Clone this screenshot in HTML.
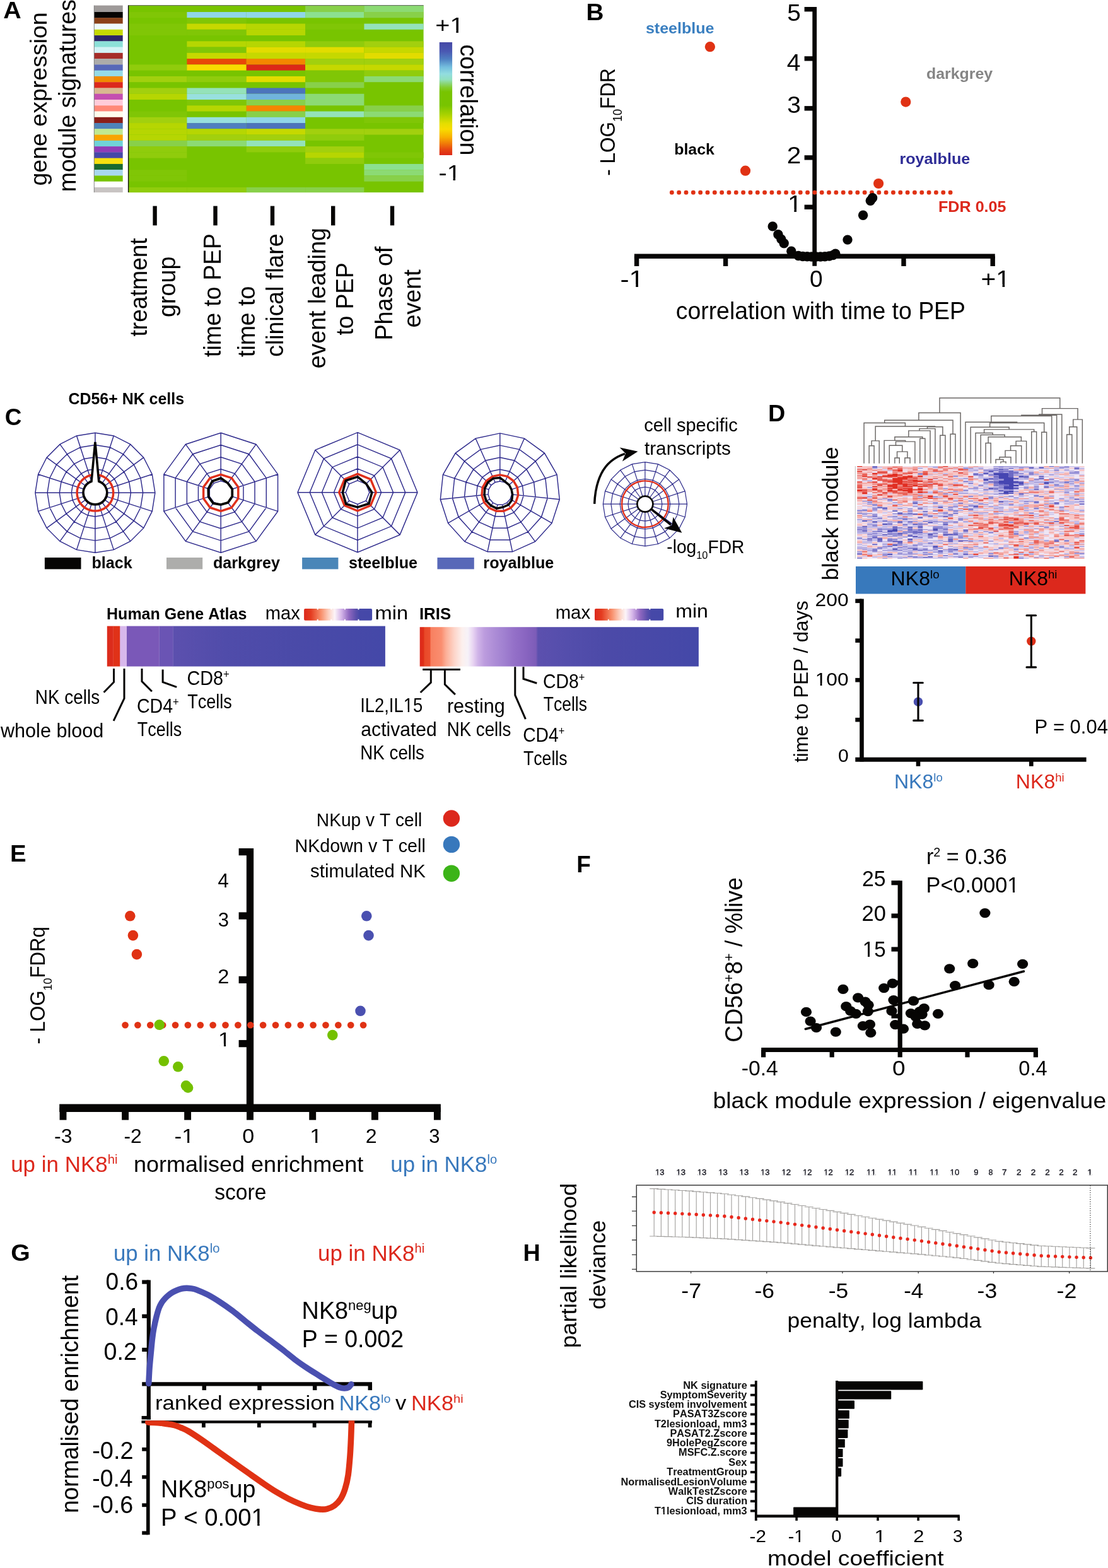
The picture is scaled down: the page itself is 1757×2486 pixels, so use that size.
<!DOCTYPE html>
<html lang="en"><head><meta charset="utf-8"><title>Figure</title>
<style>html,body{margin:0;padding:0;background:#fff}svg{display:block}text{font-family:"Liberation Sans",sans-serif;white-space:pre;font-kerning:none}</style></head>
<body>
<svg width="1757" height="2486" viewBox="0 0 1757 2486">
<rect width="1757" height="2486" fill="#fff"/>
<g id="pA">
<rect x="149.3" y="8.6" width="45.4" height="10.72" fill="#9e9a99"/>
<rect x="149.3" y="19.02" width="45.4" height="9.57" fill="#050402"/>
<rect x="149.3" y="28.28" width="45.4" height="9.57" fill="#8b4118"/>
<rect x="149.3" y="37.55" width="45.4" height="9.57" fill="#eef9fb"/>
<rect x="149.3" y="46.81" width="45.4" height="9.57" fill="#c6d900"/>
<rect x="149.3" y="56.08" width="45.4" height="9.57" fill="#2d2568"/>
<rect x="149.3" y="65.34" width="45.4" height="9.57" fill="#8ce0d8"/>
<rect x="149.3" y="74.61" width="45.4" height="9.57" fill="#d3f2f5"/>
<rect x="149.3" y="83.88" width="45.4" height="9.57" fill="#a62c28"/>
<rect x="149.3" y="93.14" width="45.4" height="9.57" fill="#adacaa"/>
<rect x="149.3" y="102.41" width="45.4" height="9.57" fill="#5868b8"/>
<rect x="149.3" y="111.67" width="45.4" height="9.57" fill="#96dbe6"/>
<rect x="149.3" y="120.94" width="45.4" height="9.57" fill="#f08a00"/>
<rect x="149.3" y="130.2" width="45.4" height="9.57" fill="#dc281c"/>
<rect x="149.3" y="139.47" width="45.4" height="9.57" fill="#d8b990"/>
<rect x="149.3" y="148.73" width="45.4" height="9.57" fill="#c44fb0"/>
<rect x="149.3" y="158" width="45.4" height="9.57" fill="#ffcbd9"/>
<rect x="149.3" y="167.27" width="45.4" height="9.57" fill="#ff8878"/>
<rect x="149.3" y="176.53" width="45.4" height="9.57" fill="#fffcec"/>
<rect x="149.3" y="185.8" width="45.4" height="9.57" fill="#8b1e18"/>
<rect x="149.3" y="195.06" width="45.4" height="9.57" fill="#4e83b8"/>
<rect x="149.3" y="204.33" width="45.4" height="9.57" fill="#c0e890"/>
<rect x="149.3" y="213.59" width="45.4" height="9.57" fill="#f8a400"/>
<rect x="149.3" y="222.86" width="45.4" height="9.57" fill="#70d2d8"/>
<rect x="149.3" y="232.12" width="45.4" height="9.57" fill="#903cb8"/>
<rect x="149.3" y="241.39" width="45.4" height="9.57" fill="#4648a8"/>
<rect x="149.3" y="250.66" width="45.4" height="9.57" fill="#f8e010"/>
<rect x="149.3" y="259.92" width="45.4" height="9.57" fill="#1a6a30"/>
<rect x="149.3" y="269.19" width="45.4" height="9.57" fill="#a8d8ee"/>
<rect x="149.3" y="278.45" width="45.4" height="9.57" fill="#78c400"/>
<rect x="149.3" y="287.72" width="45.4" height="9.57" fill="#ffffff"/>
<rect x="149.3" y="296.98" width="45.4" height="8.12" fill="#c8c4c3"/>
<line x1="149.3" y1="8.6" x2="149.3" y2="305.1" stroke="#666" stroke-width="0.8"/>
<rect x="203.3" y="8.6" width="468.3" height="296.5" fill="#78c400"/>
<rect x="484.1" y="8.6" width="93.3" height="10.42" fill="#88d04a"/>
<rect x="577.4" y="8.6" width="94.2" height="10.42" fill="#8cda74"/>
<rect x="203.3" y="19.02" width="93.1" height="9.27" fill="#80c606"/>
<rect x="296.4" y="19.02" width="94.3" height="9.27" fill="#90d6e8"/>
<rect x="390.7" y="19.02" width="93.4" height="9.27" fill="#90d6e8"/>
<rect x="484.1" y="19.02" width="93.3" height="9.27" fill="#8ce090"/>
<rect x="577.4" y="19.02" width="94.2" height="9.27" fill="#88d04a"/>
<rect x="296.4" y="28.28" width="94.3" height="9.27" fill="#80c606"/>
<rect x="203.3" y="37.55" width="93.1" height="9.27" fill="#80c606"/>
<rect x="296.4" y="37.55" width="94.3" height="9.27" fill="#c6d800"/>
<rect x="390.7" y="37.55" width="93.4" height="9.27" fill="#b6d602"/>
<rect x="484.1" y="37.55" width="93.3" height="9.27" fill="#80c606"/>
<rect x="577.4" y="37.55" width="94.2" height="9.27" fill="#94e2ba"/>
<rect x="203.3" y="46.81" width="93.1" height="9.27" fill="#80c606"/>
<rect x="296.4" y="46.81" width="94.3" height="9.27" fill="#80c606"/>
<rect x="390.7" y="46.81" width="93.4" height="9.27" fill="#b6d602"/>
<rect x="296.4" y="65.34" width="94.3" height="9.27" fill="#b6d602"/>
<rect x="390.7" y="65.34" width="93.4" height="9.27" fill="#b6d602"/>
<rect x="484.1" y="65.34" width="93.3" height="9.27" fill="#90cc0c"/>
<rect x="577.4" y="65.34" width="94.2" height="9.27" fill="#a2d00e"/>
<rect x="296.4" y="74.61" width="94.3" height="9.27" fill="#80c606"/>
<rect x="390.7" y="74.61" width="93.4" height="9.27" fill="#e2dc00"/>
<rect x="484.1" y="74.61" width="93.3" height="9.27" fill="#e2dc00"/>
<rect x="577.4" y="74.61" width="94.2" height="9.27" fill="#c6d800"/>
<rect x="296.4" y="83.88" width="94.3" height="9.27" fill="#c6d800"/>
<rect x="390.7" y="83.88" width="93.4" height="9.27" fill="#c6d800"/>
<rect x="484.1" y="83.88" width="93.3" height="9.27" fill="#c6d800"/>
<rect x="577.4" y="83.88" width="94.2" height="9.27" fill="#e2dc00"/>
<rect x="296.4" y="93.14" width="94.3" height="9.27" fill="#e84808"/>
<rect x="390.7" y="93.14" width="93.4" height="9.27" fill="#f48600"/>
<rect x="484.1" y="93.14" width="93.3" height="9.27" fill="#a2d00e"/>
<rect x="577.4" y="93.14" width="94.2" height="9.27" fill="#a2d00e"/>
<rect x="203.3" y="102.41" width="93.1" height="9.27" fill="#90cc0c"/>
<rect x="296.4" y="102.41" width="94.3" height="9.27" fill="#f8dc00"/>
<rect x="390.7" y="102.41" width="93.4" height="9.27" fill="#dc2818"/>
<rect x="484.1" y="102.41" width="93.3" height="9.27" fill="#c6d800"/>
<rect x="577.4" y="102.41" width="94.2" height="9.27" fill="#c6d800"/>
<rect x="484.1" y="111.67" width="93.3" height="9.27" fill="#80c606"/>
<rect x="577.4" y="111.67" width="94.2" height="9.27" fill="#90cc0c"/>
<rect x="203.3" y="120.94" width="93.1" height="9.27" fill="#a2d00e"/>
<rect x="296.4" y="120.94" width="94.3" height="9.27" fill="#90cc0c"/>
<rect x="390.7" y="120.94" width="93.4" height="9.27" fill="#e2dc00"/>
<rect x="484.1" y="120.94" width="93.3" height="9.27" fill="#80c606"/>
<rect x="577.4" y="120.94" width="94.2" height="9.27" fill="#8cda74"/>
<rect x="484.1" y="130.2" width="93.3" height="9.27" fill="#88d04a"/>
<rect x="203.3" y="139.47" width="93.1" height="9.27" fill="#a2d00e"/>
<rect x="296.4" y="139.47" width="94.3" height="9.27" fill="#94e2ba"/>
<rect x="390.7" y="139.47" width="93.4" height="9.27" fill="#4c74bc"/>
<rect x="203.3" y="148.73" width="93.1" height="9.27" fill="#b6d602"/>
<rect x="296.4" y="148.73" width="94.3" height="9.27" fill="#98e0de"/>
<rect x="390.7" y="148.73" width="93.4" height="9.27" fill="#70b4dc"/>
<rect x="484.1" y="148.73" width="93.3" height="9.27" fill="#8cda74"/>
<rect x="296.4" y="158" width="94.3" height="9.27" fill="#80c606"/>
<rect x="390.7" y="158" width="93.4" height="9.27" fill="#88d04a"/>
<rect x="484.1" y="158" width="93.3" height="9.27" fill="#8cda74"/>
<rect x="296.4" y="167.27" width="94.3" height="9.27" fill="#b6d602"/>
<rect x="390.7" y="167.27" width="93.4" height="9.27" fill="#f48600"/>
<rect x="577.4" y="167.27" width="94.2" height="9.27" fill="#88d04a"/>
<rect x="203.3" y="176.53" width="93.1" height="9.27" fill="#80c606"/>
<rect x="390.7" y="176.53" width="93.4" height="9.27" fill="#88d04a"/>
<rect x="484.1" y="176.53" width="93.3" height="9.27" fill="#94e2ba"/>
<rect x="577.4" y="176.53" width="94.2" height="9.27" fill="#8cda74"/>
<rect x="203.3" y="185.8" width="93.1" height="9.27" fill="#a2d00e"/>
<rect x="296.4" y="185.8" width="94.3" height="9.27" fill="#98e0de"/>
<rect x="390.7" y="185.8" width="93.4" height="9.27" fill="#90d6e8"/>
<rect x="577.4" y="185.8" width="94.2" height="9.27" fill="#80c606"/>
<rect x="203.3" y="195.06" width="93.1" height="9.27" fill="#b6d602"/>
<rect x="296.4" y="195.06" width="94.3" height="9.27" fill="#5080c0"/>
<rect x="390.7" y="195.06" width="93.4" height="9.27" fill="#4c74bc"/>
<rect x="203.3" y="204.33" width="93.1" height="9.27" fill="#b6d602"/>
<rect x="296.4" y="204.33" width="94.3" height="9.27" fill="#b6d602"/>
<rect x="390.7" y="204.33" width="93.4" height="9.27" fill="#c6d800"/>
<rect x="484.1" y="204.33" width="93.3" height="9.27" fill="#a2d00e"/>
<rect x="577.4" y="204.33" width="94.2" height="9.27" fill="#a2d00e"/>
<rect x="203.3" y="213.59" width="93.1" height="9.27" fill="#b6d602"/>
<rect x="296.4" y="213.59" width="94.3" height="9.27" fill="#a2d00e"/>
<rect x="390.7" y="213.59" width="93.4" height="9.27" fill="#a2d00e"/>
<rect x="484.1" y="213.59" width="93.3" height="9.27" fill="#90cc0c"/>
<rect x="203.3" y="222.86" width="93.1" height="9.27" fill="#88d04a"/>
<rect x="296.4" y="222.86" width="94.3" height="9.27" fill="#8cda74"/>
<rect x="390.7" y="222.86" width="93.4" height="9.27" fill="#94e2ba"/>
<rect x="203.3" y="232.12" width="93.1" height="9.27" fill="#90cc0c"/>
<rect x="390.7" y="232.12" width="93.4" height="9.27" fill="#90cc0c"/>
<rect x="484.1" y="232.12" width="93.3" height="9.27" fill="#a2d00e"/>
<rect x="203.3" y="241.39" width="93.1" height="9.27" fill="#90cc0c"/>
<rect x="484.1" y="241.39" width="93.3" height="9.27" fill="#b6d602"/>
<rect x="577.4" y="241.39" width="94.2" height="9.27" fill="#80c606"/>
<rect x="484.1" y="250.66" width="93.3" height="9.27" fill="#90cc0c"/>
<rect x="577.4" y="259.92" width="94.2" height="9.27" fill="#8ce090"/>
<rect x="203.3" y="269.19" width="93.1" height="9.27" fill="#80c606"/>
<rect x="577.4" y="269.19" width="94.2" height="9.27" fill="#8cda74"/>
<rect x="203.3" y="278.45" width="93.1" height="9.27" fill="#80c606"/>
<rect x="577.4" y="278.45" width="94.2" height="9.27" fill="#88d04a"/>
<rect x="203.3" y="296.98" width="93.1" height="8.12" fill="#90cc0c"/>
<rect x="296.4" y="296.98" width="94.3" height="8.12" fill="#90cc0c"/>
<rect x="390.7" y="296.98" width="93.4" height="8.12" fill="#88d04a"/>
<rect x="484.1" y="296.98" width="93.3" height="8.12" fill="#88d04a"/>
<line x1="203.6" y1="8.3" x2="203.6" y2="305.1" stroke="#111" stroke-width="1.4"/>
<line x1="203" y1="8.6" x2="671.6" y2="8.6" stroke="#555" stroke-width="0.9"/>
<rect x="242.4" y="326.6" width="6.4" height="30.8" fill="#060504"/>
<rect x="338.3" y="326.6" width="6.4" height="30.8" fill="#060504"/>
<rect x="428.8" y="326.6" width="6.4" height="30.8" fill="#060504"/>
<rect x="525" y="326.6" width="6.4" height="30.8" fill="#060504"/>
<rect x="618.8" y="326.6" width="6.4" height="30.8" fill="#060504"/>
<defs><linearGradient id="gA" x1="0" y1="0" x2="0" y2="1"><stop offset="0" stop-color="#4648a6"/><stop offset="0.08" stop-color="#4a58b2"/><stop offset="0.15" stop-color="#4f80c2"/><stop offset="0.22" stop-color="#74bede"/><stop offset="0.28" stop-color="#92dde0"/><stop offset="0.33" stop-color="#92e0c0"/><stop offset="0.4" stop-color="#82cc30"/><stop offset="0.44" stop-color="#78c400"/><stop offset="0.56" stop-color="#78c400"/><stop offset="0.64" stop-color="#a8d200"/><stop offset="0.72" stop-color="#e4de00"/><stop offset="0.77" stop-color="#f8dc00"/><stop offset="0.84" stop-color="#f8b000"/><stop offset="0.9" stop-color="#f07808"/><stop offset="0.95" stop-color="#e64612"/><stop offset="1" stop-color="#dc2818"/></linearGradient></defs>
<rect x="696.8" y="67" width="20.3" height="179" fill="url(#gA)"/>
</g>
<g id="pB">
<line x1="1291.7" y1="11" x2="1291.7" y2="421.8" stroke="#060504" stroke-width="6.8"/>
<line x1="1275.6" y1="14.7" x2="1291.7" y2="14.7" stroke="#060504" stroke-width="7.4"/>
<line x1="1275.6" y1="92.9" x2="1291.7" y2="92.9" stroke="#060504" stroke-width="7.4"/>
<line x1="1275.6" y1="171.8" x2="1291.7" y2="171.8" stroke="#060504" stroke-width="7.4"/>
<line x1="1275.6" y1="249.9" x2="1291.7" y2="249.9" stroke="#060504" stroke-width="7.4"/>
<line x1="1275.6" y1="328.3" x2="1291.7" y2="328.3" stroke="#060504" stroke-width="7.4"/>
<line x1="1005.9" y1="406.3" x2="1577.8" y2="406.3" stroke="#060504" stroke-width="7.4"/>
<line x1="1009.6" y1="406.3" x2="1009.6" y2="422" stroke="#060504" stroke-width="7.4"/>
<line x1="1150.6" y1="406.3" x2="1150.6" y2="422" stroke="#060504" stroke-width="7.4"/>
<line x1="1433" y1="406.3" x2="1433" y2="422" stroke="#060504" stroke-width="7.4"/>
<line x1="1574.2" y1="406.3" x2="1574.2" y2="422" stroke="#060504" stroke-width="7.4"/>
<line x1="1065.3" y1="305.2" x2="1507.5" y2="305.2" stroke="#e03214" stroke-width="6.8" stroke-linecap="round" stroke-dasharray="0.1 11.226"/>
<circle cx="1125.9" cy="74.2" r="8.1" fill="#e03214"/>
<circle cx="1436.3" cy="161.6" r="8.1" fill="#e03214"/>
<circle cx="1182" cy="270.7" r="8.1" fill="#e03214"/>
<circle cx="1393.1" cy="291" r="8.1" fill="#e03214"/>
<circle cx="1225.2" cy="358.9" r="7.7" fill="#060504"/>
<circle cx="1233.9" cy="371.7" r="7.7" fill="#060504"/>
<circle cx="1238.8" cy="379.1" r="7.7" fill="#060504"/>
<circle cx="1243.2" cy="385.8" r="7.7" fill="#060504"/>
<circle cx="1254.8" cy="398.3" r="7.7" fill="#060504"/>
<circle cx="1266" cy="405.5" r="7.7" fill="#060504"/>
<circle cx="1273" cy="406.5" r="7.7" fill="#060504"/>
<circle cx="1280" cy="406.8" r="7.7" fill="#060504"/>
<circle cx="1287" cy="407" r="7.7" fill="#060504"/>
<circle cx="1294" cy="407" r="7.7" fill="#060504"/>
<circle cx="1301" cy="407" r="7.7" fill="#060504"/>
<circle cx="1308" cy="406.8" r="7.7" fill="#060504"/>
<circle cx="1315" cy="406" r="7.7" fill="#060504"/>
<circle cx="1321" cy="404.5" r="7.7" fill="#060504"/>
<circle cx="1324.8" cy="402.3" r="7.7" fill="#060504"/>
<circle cx="1344" cy="380.1" r="7.7" fill="#060504"/>
<circle cx="1368.6" cy="341.2" r="7.7" fill="#060504"/>
<circle cx="1380.3" cy="318.3" r="7.7" fill="#060504"/>
<circle cx="1383.6" cy="313.8" r="7.7" fill="#060504"/>
</g>
<g id="pC">
<path d="M150.9 762.5L156.71 763.42L161.95 766.09L166.11 770.25L168.78 775.49L169.7 781.3L168.78 787.11L166.11 792.35L161.95 796.51L156.71 799.18L150.9 800.1L145.09 799.18L139.85 796.51L135.69 792.35L133.02 787.11L132.1 781.3L133.02 775.49L135.69 770.25L139.85 766.09L145.09 763.42ZM150.9 743.7L162.52 745.54L173 750.88L181.32 759.2L186.66 769.68L188.5 781.3L186.66 792.92L181.32 803.4L173 811.72L162.52 817.06L150.9 818.9L139.28 817.06L128.8 811.72L120.48 803.4L115.14 792.92L113.3 781.3L115.14 769.68L120.48 759.2L128.8 750.88L139.28 745.54ZM150.9 724.7L168.39 727.47L184.17 735.51L196.69 748.03L204.73 763.81L207.5 781.3L204.73 798.79L196.69 814.57L184.17 827.09L168.39 835.13L150.9 837.9L133.41 835.13L117.63 827.09L105.11 814.57L97.07 798.79L94.3 781.3L97.07 763.81L105.11 748.03L117.63 735.51L133.41 727.47ZM150.9 705.5L174.32 709.21L195.45 719.98L212.22 736.75L222.99 757.88L226.7 781.3L222.99 804.72L212.22 825.85L195.45 842.62L174.32 853.39L150.9 857.1L127.48 853.39L106.35 842.62L89.58 825.85L78.81 804.72L75.1 781.3L78.81 757.88L89.58 736.75L106.35 719.98L127.48 709.21ZM150.9 686.3L180.26 690.95L206.74 704.44L227.76 725.46L241.25 751.94L245.9 781.3L241.25 810.66L227.76 837.14L206.74 858.16L180.26 871.65L150.9 876.3L121.54 871.65L95.06 858.16L74.04 837.14L60.55 810.66L55.9 781.3L60.55 751.94L74.04 725.46L95.06 704.44L121.54 690.95ZM150.9 762.5L150.9 686.3M156.71 763.42L180.26 690.95M161.95 766.09L206.74 704.44M166.11 770.25L227.76 725.46M168.78 775.49L241.25 751.94M169.7 781.3L245.9 781.3M168.78 787.11L241.25 810.66M166.11 792.35L227.76 837.14M161.95 796.51L206.74 858.16M156.71 799.18L180.26 871.65M150.9 800.1L150.9 876.3M145.09 799.18L121.54 871.65M139.85 796.51L95.06 858.16M135.69 792.35L74.04 837.14M133.02 787.11L60.55 810.66M132.1 781.3L55.9 781.3M133.02 775.49L60.55 751.94M135.69 770.25L74.04 725.46M139.85 766.09L95.06 704.44M145.09 763.42L121.54 690.95" fill="none" stroke="#2e2a8c" stroke-width="1.45"/>
<path d="M150.9 752.5L155.41 752.85L159.8 753.91L163.97 755.64L167.83 758L171.26 760.94L174.2 764.37L176.56 768.23L178.29 772.4L179.35 776.79L179.7 781.3L179.35 785.81L178.29 790.2L176.56 794.37L174.2 798.23L171.26 801.66L167.83 804.6L163.97 806.96L159.8 808.69L155.41 809.75L150.9 810.1L146.39 809.75L142 808.69L137.83 806.96L133.97 804.6L130.54 801.66L127.6 798.23L125.24 794.37L123.51 790.2L122.45 785.81L122.1 781.3L122.45 776.79L123.51 772.4L125.24 768.23L127.6 764.37L130.54 760.94L133.97 758L137.83 755.64L142 753.91L146.39 752.85Z" fill="none" stroke="#e0301c" stroke-width="3.5" stroke-linejoin="round"/>
<path d="M150.9 700.8L156.77 763.23A18.8 18.8 0 1 1 145.03 763.23Z" fill="#fff" stroke="#060504" stroke-width="3.6" stroke-linejoin="miter" stroke-miterlimit="10"/>
<path d="M350.2 762.5L361.25 766.09L368.08 775.49L368.08 787.11L361.25 796.51L350.2 800.1L339.15 796.51L332.32 787.11L332.32 775.49L339.15 766.09ZM350.2 743.7L372.3 750.88L385.96 769.68L385.96 792.92L372.3 811.72L350.2 818.9L328.1 811.72L314.44 792.92L314.44 769.68L328.1 750.88ZM350.2 724.7L383.47 735.51L404.03 763.81L404.03 798.79L383.47 827.09L350.2 837.9L316.93 827.09L296.37 798.79L296.37 763.81L316.93 735.51ZM350.2 705.5L394.75 719.98L422.29 757.88L422.29 804.72L394.75 842.62L350.2 857.1L305.65 842.62L278.11 804.72L278.11 757.88L305.65 719.98ZM350.2 686.3L406.04 704.44L440.55 751.94L440.55 810.66L406.04 858.16L350.2 876.3L294.36 858.16L259.85 810.66L259.85 751.94L294.36 704.44ZM350.2 762.5L350.2 686.3M361.25 766.09L406.04 704.44M368.08 775.49L440.55 751.94M368.08 787.11L440.55 810.66M361.25 796.51L406.04 858.16M350.2 800.1L350.2 876.3M339.15 796.51L294.36 858.16M332.32 787.11L259.85 810.66M332.32 775.49L259.85 751.94M339.15 766.09L294.36 704.44" fill="none" stroke="#2e2a8c" stroke-width="1.45"/>
<path d="M350.2 752.3L367.25 757.84L377.78 772.34L377.78 790.26L367.25 804.76L350.2 810.3L333.15 804.76L322.62 790.26L322.62 772.34L333.15 757.84Z" fill="none" stroke="#e0301c" stroke-width="3.5" stroke-linejoin="round"/>
<path d="M350.2 758.1L361.31 766.01L368.27 775.43L368.27 787.17L361.54 796.91L350.2 800L338.09 797.97L330.61 787.67L330.32 774.84L336.8 762.85Z" fill="none" stroke="#060504" stroke-width="3.8" stroke-linejoin="miter" stroke-miterlimit="10"/>
<path d="M567 761.9L580.29 767.41L585.8 780.7L580.29 793.99L567 799.5L553.71 793.99L548.2 780.7L553.71 767.41ZM567 743.1L593.59 754.11L604.6 780.7L593.59 807.29L567 818.3L540.41 807.29L529.4 780.7L540.41 754.11ZM567 724.1L607.02 740.68L623.6 780.7L607.02 820.72L567 837.3L526.98 820.72L510.4 780.7L526.98 740.68ZM567 704.9L620.6 727.1L642.8 780.7L620.6 834.3L567 856.5L513.4 834.3L491.2 780.7L513.4 727.1ZM567 685.7L634.18 713.52L662 780.7L634.18 847.88L567 875.7L499.82 847.88L472 780.7L499.82 713.52ZM567 761.9L567 685.7M580.29 767.41L634.18 713.52M585.8 780.7L662 780.7M580.29 793.99L634.18 847.88M567 799.5L567 875.7M553.71 793.99L499.82 847.88M548.2 780.7L472 780.7M553.71 767.41L499.82 713.52" fill="none" stroke="#2e2a8c" stroke-width="1.45"/>
<path d="M567 751.4L587.72 759.98L596.3 780.7L587.72 801.42L567 810L546.28 801.42L537.7 780.7L546.28 759.98Z" fill="none" stroke="#e0301c" stroke-width="3.5" stroke-linejoin="round"/>
<path d="M567 755.9L580.65 767.05L589.8 780.7L584.89 798.59L567 804.2L548.69 799.01L543.3 780.7L548.26 761.96Z" fill="none" stroke="#060504" stroke-width="3.6" stroke-linejoin="miter" stroke-miterlimit="10"/>
<path d="M792.8 763.1L800.45 764.73L806.77 769.32L810.68 776.09L811.5 783.87L809.08 791.3L803.85 797.11L796.71 800.29L788.89 800.29L781.75 797.11L776.52 791.3L774.1 783.87L774.92 776.09L778.83 769.32L785.15 764.73ZM792.8 744.3L808.09 747.55L820.74 756.74L828.56 770.28L830.19 785.83L825.36 800.7L814.9 812.32L800.62 818.68L784.98 818.68L770.7 812.32L760.24 800.7L755.41 785.83L757.04 770.28L764.86 756.74L777.51 747.55ZM792.8 725.3L815.82 730.19L834.86 744.03L846.63 764.41L849.09 787.82L841.82 810.2L826.07 827.69L804.57 837.26L781.03 837.26L759.53 827.69L743.78 810.2L736.51 787.82L738.97 764.41L750.74 744.03L769.78 730.19ZM792.8 706.1L823.63 712.65L849.13 731.18L864.89 758.48L868.18 789.82L858.44 819.8L837.35 843.22L808.56 856.04L777.04 856.04L748.25 843.22L727.16 819.8L717.42 789.82L720.71 758.48L736.47 731.18L761.97 712.65ZM792.8 686.9L831.44 695.11L863.4 718.33L883.15 752.54L887.28 791.83L875.07 829.4L848.64 858.76L812.55 874.82L773.05 874.82L736.96 858.76L710.53 829.4L698.32 791.83L702.45 752.54L722.2 718.33L754.16 695.11ZM792.8 763.1L792.8 687.3M800.45 764.73L831.28 695.48M806.77 769.32L863.1 718.6M810.68 776.09L882.77 752.67M811.5 783.87L886.88 791.79M809.08 791.3L874.73 829.2M803.85 797.11L848.4 858.43M796.71 800.29L812.47 874.43M788.89 800.29L773.13 874.43M781.75 797.11L737.2 858.43M776.52 791.3L710.87 829.2M774.1 783.87L698.72 791.79M774.92 776.09L702.83 752.67M778.83 769.32L722.5 718.6M785.15 764.73L754.32 695.48" fill="none" stroke="#2e2a8c" stroke-width="1.45"/>
<path d="M792.8 752.9L804.6 755.41L814.35 762.5L820.38 772.94L821.64 784.93L817.91 796.4L809.85 805.36L798.83 810.27L786.77 810.27L775.75 805.36L767.69 796.4L763.96 784.93L765.22 772.94L771.25 762.5L781 755.41Z" fill="none" stroke="#e0301c" stroke-width="3.5" stroke-linejoin="round"/>
<path d="M792.8 757.5L800.93 763.63L807.37 768.79L810.97 776L812.69 783.99L811.68 792.8L806.26 800.43L797.5 804.01L787.64 806.16L778.46 801.64L771.24 794.35L768.04 784.5L768.83 774.11L773.78 764.77L782.31 758.33Z" fill="none" stroke="#060504" stroke-width="3.5" stroke-linejoin="miter" stroke-miterlimit="10"/>
<path d="M1022.9 772.2L1031.24 773.52L1038.77 777.36L1044.74 783.33L1048.58 790.86L1049.9 799.2L1048.58 807.54L1044.74 815.07L1038.77 821.04L1031.24 824.88L1022.9 826.2L1014.56 824.88L1007.03 821.04L1001.06 815.07L997.22 807.54L995.9 799.2L997.22 790.86L1001.06 783.33L1007.03 777.36L1014.56 773.52ZM1022.9 759.4L1035.2 761.35L1046.29 767L1055.1 775.81L1060.75 786.9L1062.7 799.2L1060.75 811.5L1055.1 822.59L1046.29 831.4L1035.2 837.05L1022.9 839L1010.6 837.05L999.51 831.4L990.7 822.59L985.05 811.5L983.1 799.2L985.05 786.9L990.7 775.81L999.51 767L1010.6 761.35ZM1022.9 745.2L1039.59 747.84L1054.64 755.51L1066.59 767.46L1074.26 782.51L1076.9 799.2L1074.26 815.89L1066.59 830.94L1054.64 842.89L1039.59 850.56L1022.9 853.2L1006.21 850.56L991.16 842.89L979.21 830.94L971.54 815.89L968.9 799.2L971.54 782.51L979.21 767.46L991.16 755.51L1006.21 747.84ZM1022.9 732.6L1043.48 735.86L1062.05 745.32L1076.78 760.05L1086.24 778.62L1089.5 799.2L1086.24 819.78L1076.78 838.35L1062.05 853.08L1043.48 862.54L1022.9 865.8L1002.32 862.54L983.75 853.08L969.02 838.35L959.56 819.78L956.3 799.2L959.56 778.62L969.02 760.05L983.75 745.32L1002.32 735.86ZM1022.9 787.2L1022.9 732.6M1026.61 787.79L1043.48 735.86M1029.95 789.49L1062.05 745.32M1032.61 792.15L1076.78 760.05M1034.31 795.49L1086.24 778.62M1034.9 799.2L1089.5 799.2M1034.31 802.91L1086.24 819.78M1032.61 806.25L1076.78 838.35M1029.95 808.91L1062.05 853.08M1026.61 810.61L1043.48 862.54M1022.9 811.2L1022.9 865.8M1019.19 810.61L1002.32 862.54M1015.85 808.91L983.75 853.08M1013.19 806.25L969.02 838.35M1011.49 802.91L959.56 819.78M1010.9 799.2L956.3 799.2M1011.49 795.49L959.56 778.62M1013.19 792.15L969.02 760.05M1015.85 789.49L983.75 745.32M1019.19 787.79L1002.32 735.86" fill="none" stroke="#2c2a8a" stroke-width="1.2"/>
<circle cx="1022.9" cy="799.2" r="36.8" fill="none" stroke="#e0301c" stroke-width="2.4"/>
<path d="M1031.9 806.7L1064 832" fill="none" stroke="#060504" stroke-width="3.6"/>
<path d="M1081.4 844.7L1053.1 837.5L1065.3 833.1L1067.5 819.8Z" fill="#060504" stroke="#060504" stroke-width="0"/>
<circle cx="1022.9" cy="799.2" r="12.5" fill="#fff" stroke="#060504" stroke-width="2.7"/>
<path d="M942.7 798.9C943.5 775 948 762 953.5 751C961 736 974 725 991 719.4" fill="none" stroke="#060504" stroke-width="3.5"/>
<path d="M1011.5 715.7L986.9 731.6L992.1 719.1L982.7 709.4Z" fill="#060504" stroke="#060504" stroke-width="0"/>
<rect x="70.9" y="884" width="57.6" height="18.4" fill="#060504"/>
<rect x="264" y="884" width="57.2" height="18.4" fill="#adadab"/>
<rect x="479.1" y="884" width="57.3" height="18.4" fill="#4a86b8"/>
<rect x="693.5" y="884" width="58.3" height="18.4" fill="#5868b8"/>
<defs><linearGradient id="gM"><stop offset="0" stop-color="#dc281c"/><stop offset="0.1" stop-color="#e43c20"/><stop offset="0.25" stop-color="#f8906c"/><stop offset="0.36" stop-color="#fcd0c0"/><stop offset="0.45" stop-color="#fcf4f8"/><stop offset="0.55" stop-color="#d4b4e8"/><stop offset="0.66" stop-color="#9068c0"/><stop offset="0.76" stop-color="#5c50ac"/><stop offset="0.82" stop-color="#4648a8"/><stop offset="1" stop-color="#4448a8"/></linearGradient><linearGradient id="gH" gradientUnits="userSpaceOnUse" x1="274" y1="0" x2="611" y2="0"><stop offset="0" stop-color="#5c50ae"/><stop offset="0.25" stop-color="#504caa"/><stop offset="0.6" stop-color="#4a4aa8"/><stop offset="1" stop-color="#4448a8"/></linearGradient><linearGradient id="gI" gradientUnits="userSpaceOnUse" x1="665.7" y1="0" x2="1108" y2="0"><stop offset="0.0000" stop-color="#dc281c"/><stop offset="0.0142" stop-color="#e03018"/><stop offset="0.0165" stop-color="#e84828"/><stop offset="0.0369" stop-color="#ec5030"/><stop offset="0.0391" stop-color="#f88060"/><stop offset="0.0775" stop-color="#fa8e70"/><stop offset="0.0934" stop-color="#fcae96"/><stop offset="0.1228" stop-color="#fdd4c8"/><stop offset="0.1522" stop-color="#fcf0ee"/><stop offset="0.1725" stop-color="#f6f2f8"/><stop offset="0.1906" stop-color="#e8d4f2"/><stop offset="0.2087" stop-color="#d0b4e8"/><stop offset="0.2313" stop-color="#bc9cde"/><stop offset="0.2697" stop-color="#ac8cd6"/><stop offset="0.3036" stop-color="#a080d0"/><stop offset="0.3376" stop-color="#9470c8"/><stop offset="0.3828" stop-color="#8864c0"/><stop offset="0.4167" stop-color="#7c5cb8"/><stop offset="0.4235" stop-color="#5c50ae"/><stop offset="0.5297" stop-color="#544eac"/><stop offset="0.6654" stop-color="#4c4aa8"/><stop offset="1.0000" stop-color="#4448a8"/></linearGradient></defs>
<rect x="274.2" y="992.6" width="336.7" height="64" fill="url(#gH)"/>
<rect x="252.5" y="992.6" width="22" height="64" fill="#6a54b4"/>
<rect x="200.7" y="992.6" width="52" height="64" fill="#7a58b8"/>
<rect x="190" y="992.6" width="10.9" height="64" fill="#d8b8ec"/>
<rect x="179.6" y="992.6" width="10.6" height="64" fill="#e03218"/>
<rect x="169.8" y="992.6" width="10" height="64" fill="#dc2c1c"/>
<rect x="665.7" y="994.2" width="442.2" height="62.4" fill="url(#gI)"/>
<rect x="482.1" y="964.9" width="108" height="18.8" fill="url(#gM)" rx="2"/>
<rect x="502.7" y="964.4" width="2" height="2.2" fill="#fff"/>
<rect x="502.7" y="981.8" width="2" height="2.2" fill="#fff"/>
<rect x="524.3" y="964.4" width="2" height="2.2" fill="#fff"/>
<rect x="524.3" y="981.8" width="2" height="2.2" fill="#fff"/>
<rect x="545.9" y="964.4" width="2" height="2.2" fill="#fff"/>
<rect x="545.9" y="981.8" width="2" height="2.2" fill="#fff"/>
<rect x="567.5" y="964.4" width="2" height="2.2" fill="#fff"/>
<rect x="567.5" y="981.8" width="2" height="2.2" fill="#fff"/>
<rect x="943" y="964.9" width="109.2" height="18.8" fill="url(#gM)" rx="2"/>
<rect x="963.84" y="964.4" width="2" height="2.2" fill="#fff"/>
<rect x="963.84" y="981.8" width="2" height="2.2" fill="#fff"/>
<rect x="985.68" y="964.4" width="2" height="2.2" fill="#fff"/>
<rect x="985.68" y="981.8" width="2" height="2.2" fill="#fff"/>
<rect x="1007.52" y="964.4" width="2" height="2.2" fill="#fff"/>
<rect x="1007.52" y="981.8" width="2" height="2.2" fill="#fff"/>
<rect x="1029.36" y="964.4" width="2" height="2.2" fill="#fff"/>
<rect x="1029.36" y="981.8" width="2" height="2.2" fill="#fff"/>
<path d="M180.5 1060V1081.5L164.6 1097.7M197 1060V1107.4L180.1 1142.9M225 1060V1080.4L240.9 1096.3M258.1 1061.5V1081.5L280.2 1089.4M670.2 1061.5H729.9M683.3 1061.5V1082.2L666.7 1098M705.4 1061.5V1085L721.9 1101.1M816.8 1057.3V1102.2L833.4 1140.1M830 1057.3V1076.3L851.3 1083.2" fill="none" stroke="#060504" stroke-width="3"/>
</g>
<g id="pD">
<path d="M1378.2 734.85V706.75H1386.09V734.85M1382.14 706.75V698.87H1394.22V734.85M1418.87 734.85V725.98H1426.26V734.85M1434.89 734.85V725.98H1443.02V734.85M1422.56 725.98V716.12H1438.95V725.98M1410.24 734.85V706.26H1430.76V716.12M1420.5 706.26V700.1H1450.91V734.85M1402.11 734.85V698.37H1435.7V700.1M1458.79 734.85V695.17H1466.93V734.85M1418.9 698.37V692.7H1462.86V695.17M1440.88 692.7V682.85H1475.06V734.85M1457.97 682.85V679.64H1482.95V734.85M1490.83 734.85V690.24H1498.96V734.85M1470.46 679.64V676.69H1494.9V690.24M1388.18 698.87V675.95H1482.68V676.69M1370.07 734.85V670.52H1435.43V675.95M1507.1 734.85V688.27H1514.98V734.85M1402.75 670.52V666.33H1511.04V688.27M1456.9 666.33V654.5H1523.12V734.85M1586.95 734.85V732.14H1595.08V734.85M1579.06 734.85V728.44H1591.02V732.14M1585.04 728.44V724.74H1602.97V734.85M1594 724.74V714.39H1611.1V734.85M1602.55 714.39V706.75H1619.73V734.85M1611.14 706.75V699.36H1627.62V734.85M1563.04 734.85V702.56H1571.18V734.85M1567.11 702.56V692.7H1619.38V699.36M1555.16 734.85V689.5H1593.24V692.7M1547.02 734.85V686.54H1574.2V689.5M1635.75 734.85V684.57H1643.64V734.85M1560.61 686.54V680.87H1639.69V684.57M1539.14 734.85V677.18H1600.15V680.87M1651.77 734.85V685.31H1659.65V734.85M1569.64 677.18V670.52H1655.71V685.31M1531 734.85V669.29H1612.68V670.52M1571.84 669.29V659.43H1667.79V734.85M1619.81 659.43V658.2H1675.67V734.85M1647.74 658.2V656.97H1683.81V734.85M1691.69 734.85V689.01H1699.83V734.85M1695.76 689.01V676.69H1707.71V734.85M1701.74 676.69V665.1H1716.34V734.85M1652.51 656.97V647.6H1709.04V665.1M1490.01 654.5V631.09H1680.77V647.6" fill="none" stroke="#6a6664" stroke-width="1.45" stroke-linejoin="miter"/>
<g transform="translate(1359.2,739) scale(8.00667,1.33364)"><rect width="45" height="110" fill="#efe6f5"/><path d="M0 104v1h1v-1zM1 52v1h1v-1zM1 65v1h1v-1zM3 66v1h1v-1zM3 100v1h1v-1zM4 49v1h1v-1zM4 86v1h1v-1zM5 69v1h1v-1zM5 81v1h1v-1zM6 76v2h1v-2zM6 88v1h1v-1zM6 104v1h1v-1zM7 53v1h1v-1zM7 73v1h1v-1zM7 75v3h1v-3zM7 89v1h1v-1zM7 94v1h1v-1zM7 98v1h1v-1zM8 56v1h1v-1zM8 66v1h1v-1zM8 80v1h1v-1zM8 89v1h1v-1zM8 91v1h1v-1zM10 73v1h1v-1zM10 82v1h1v-1zM10 87v1h1v-1zM11 57v1h1v-1zM11 69v1h1v-1zM11 79v1h1v-1zM11 83v1h1v-1zM11 98v1h1v-1zM12 9v1h1v-1zM12 61v1h1v-1zM13 108v1h1v-1zM14 80v1h1v-1zM15 75v2h1v-2zM15 95v2h1v-2zM17 69v1h1v-1zM17 81v1h1v-1zM18 81v1h1v-1zM19 80v1h1v-1zM19 99v1h1v-1zM21 76v1h1v-1zM23 48v1h1v-1zM25 8v1h1v-1zM25 15v2h1v-2zM26 6v1h1v-1zM26 18v1h1v-1zM26 26v1h1v-1zM27 8v3h1v-3zM27 19v1h1v-1zM27 22v1h1v-1zM28 4v1h1v-1zM28 8v7h1v-7zM28 17v4h1v-4zM28 29v1h1v-1zM28 32v1h1v-1zM28 42v1h1v-1zM28 97v1h1v-1zM29 8v14h1v-14zM29 24v3h1v-3zM29 30v3h1v-3zM30 7v1h1v-1zM30 10v1h1v-1zM30 13v15h1v-15zM30 29v2h1v-2zM30 32v1h1v-1zM31 14v1h1v-1zM31 18v2h1v-2zM31 22v2h1v-2zM31 26v1h1v-1zM32 12v1h1v-1zM32 19v2h1v-2zM33 13v1h1v-1zM34 2v1h1v-1zM35 27v1h1v-1zM36 12v1h1v-1zM37 19v2h1v-2zM41 19v1h1v-1zM43 39v1h1v-1z" fill="#4646b2"/><path d="M0 73v1h1v-1zM0 75v1h1v-1zM0 109v1h1v-1zM1 64v1h1v-1zM1 71v2h1v-2zM1 76v2h1v-2zM2 86v1h1v-1zM2 88v1h1v-1zM3 0v2h1v-2zM3 46v1h1v-1zM3 59v1h1v-1zM3 70v1h1v-1zM3 77v1h1v-1zM3 84v2h1v-2zM3 93v1h1v-1zM3 98v1h1v-1zM4 62v1h1v-1zM4 74v1h1v-1zM4 77v1h1v-1zM4 85v1h1v-1zM4 87v3h1v-3zM4 97v1h1v-1zM5 49v2h1v-2zM5 65v1h1v-1zM5 68v1h1v-1zM5 105v1h1v-1zM6 39v1h1v-1zM6 69v1h1v-1zM6 78v1h1v-1zM6 80v1h1v-1zM6 86v1h1v-1zM6 95v1h1v-1zM6 105v1h1v-1zM7 72v1h1v-1zM7 74v1h1v-1zM7 93v1h1v-1zM7 99v1h1v-1zM8 55v1h1v-1zM8 62v1h1v-1zM8 67v1h1v-1zM8 73v1h1v-1zM8 79v1h1v-1zM8 82v1h1v-1zM8 90v1h1v-1zM9 62v2h1v-2zM9 69v1h1v-1zM9 79v1h1v-1zM10 53v1h1v-1zM10 56v1h1v-1zM10 66v1h1v-1zM10 72v1h1v-1zM10 75v2h1v-2zM10 78v1h1v-1zM10 83v1h1v-1zM10 86v1h1v-1zM10 97v1h1v-1zM10 107v1h1v-1zM11 43v2h1v-2zM11 77v2h1v-2zM11 84v1h1v-1zM11 94v1h1v-1zM11 97v1h1v-1zM11 99v1h1v-1zM11 108v1h1v-1zM12 50v1h1v-1zM12 68v1h1v-1zM12 71v3h1v-3zM12 75v2h1v-2zM12 78v2h1v-2zM12 100v1h1v-1zM13 54v1h1v-1zM13 58v1h1v-1zM13 65v1h1v-1zM13 98v1h1v-1zM13 105v1h1v-1zM14 59v1h1v-1zM14 66v2h1v-2zM14 81v2h1v-2zM14 91v1h1v-1zM14 104v1h1v-1zM14 107v2h1v-2zM15 36v1h1v-1zM15 43v1h1v-1zM15 53v1h1v-1zM15 73v2h1v-2zM15 80v1h1v-1zM15 83v1h1v-1zM16 48v2h1v-2zM16 73v1h1v-1zM16 97v1h1v-1zM16 100v2h1v-2zM17 55v1h1v-1zM17 59v2h1v-2zM17 67v1h1v-1zM17 75v1h1v-1zM17 78v1h1v-1zM17 82v1h1v-1zM17 106v1h1v-1zM18 52v1h1v-1zM18 57v1h1v-1zM18 86v4h1v-4zM18 98v1h1v-1zM18 100v1h1v-1zM19 53v1h1v-1zM19 56v1h1v-1zM19 66v1h1v-1zM19 81v1h1v-1zM19 104v1h1v-1zM20 44v1h1v-1zM20 62v1h1v-1zM20 85v1h1v-1zM20 88v2h1v-2zM20 108v1h1v-1zM21 2v1h1v-1zM21 18v1h1v-1zM21 48v1h1v-1zM21 77v1h1v-1zM21 88v1h1v-1zM21 97v1h1v-1zM21 104v2h1v-2zM22 20v1h1v-1zM22 41v1h1v-1zM22 51v1h1v-1zM23 9v2h1v-2zM23 47v1h1v-1zM25 9v1h1v-1zM25 17v1h1v-1zM25 19v1h1v-1zM26 5v1h1v-1zM26 14v2h1v-2zM26 19v1h1v-1zM26 27v1h1v-1zM26 37v1h1v-1zM26 106v2h1v-2zM27 5v1h1v-1zM27 12v2h1v-2zM27 15v1h1v-1zM27 18v1h1v-1zM27 20v1h1v-1zM27 26v1h1v-1zM28 3v1h1v-1zM28 6v2h1v-2zM28 21v2h1v-2zM28 25v1h1v-1zM28 28v1h1v-1zM29 4v1h1v-1zM29 6v1h1v-1zM29 22v2h1v-2zM29 27v1h1v-1zM29 29v1h1v-1zM30 2v1h1v-1zM30 5v2h1v-2zM30 8v2h1v-2zM30 11v2h1v-2zM30 31v1h1v-1zM31 7v2h1v-2zM31 10v1h1v-1zM31 15v1h1v-1zM31 20v1h1v-1zM31 25v1h1v-1zM31 80v1h1v-1zM32 11v1h1v-1zM32 13v1h1v-1zM32 18v1h1v-1zM32 21v2h1v-2zM32 32v2h1v-2zM32 104v1h1v-1zM32 109v1h1v-1zM33 12v1h1v-1zM33 25v1h1v-1zM33 85v1h1v-1zM34 1v1h1v-1zM34 7v1h1v-1zM34 9v1h1v-1zM34 104v1h1v-1zM35 15v1h1v-1zM35 24v1h1v-1zM35 35v1h1v-1zM35 42v2h1v-2zM35 50v1h1v-1zM36 1v2h1v-2zM36 14v2h1v-2zM36 36v1h1v-1zM36 71v1h1v-1zM37 24v2h1v-2zM38 0v1h1v-1zM38 19v1h1v-1zM39 43v2h1v-2zM39 65v1h1v-1zM39 88v2h1v-2zM40 96v1h1v-1zM41 41v1h1v-1zM41 88v1h1v-1zM43 2v2h1v-2zM43 23v1h1v-1zM43 103v1h1v-1zM44 45v1h1v-1zM44 80v1h1v-1z" fill="#6c68c4"/><path d="M0 52v2h1v-2zM0 55v2h1v-2zM0 63v1h1v-1zM0 76v1h1v-1zM0 78v1h1v-1zM0 85v2h1v-2zM0 97v1h1v-1zM0 101v1h1v-1zM0 103v1h1v-1zM1 41v1h1v-1zM1 56v2h1v-2zM1 59v1h1v-1zM1 73v3h1v-3zM1 79v1h1v-1zM1 87v1h1v-1zM1 97v1h1v-1zM1 99v1h1v-1zM2 17v1h1v-1zM2 25v1h1v-1zM2 36v1h1v-1zM2 42v2h1v-2zM2 45v1h1v-1zM2 56v1h1v-1zM2 59v1h1v-1zM2 64v1h1v-1zM2 69v1h1v-1zM2 80v2h1v-2zM2 83v1h1v-1zM2 85v1h1v-1zM2 87v1h1v-1zM2 100v1h1v-1zM2 104v1h1v-1zM3 2v1h1v-1zM3 45v1h1v-1zM3 49v4h1v-4zM3 57v2h1v-2zM3 60v1h1v-1zM3 62v1h1v-1zM3 65v1h1v-1zM3 67v1h1v-1zM3 69v1h1v-1zM3 71v1h1v-1zM3 79v2h1v-2zM3 82v2h1v-2zM3 92v1h1v-1zM3 99v1h1v-1zM3 101v1h1v-1zM4 39v1h1v-1zM4 48v1h1v-1zM4 61v1h1v-1zM4 75v2h1v-2zM4 78v1h1v-1zM4 80v1h1v-1zM4 82v1h1v-1zM4 96v1h1v-1zM4 98v1h1v-1zM5 38v1h1v-1zM5 51v1h1v-1zM5 64v1h1v-1zM5 74v2h1v-2zM5 78v1h1v-1zM5 82v1h1v-1zM5 92v1h1v-1zM5 95v2h1v-2zM5 100v1h1v-1zM5 103v1h1v-1zM5 106v1h1v-1zM5 109v1h1v-1zM6 40v2h1v-2zM6 60v1h1v-1zM6 65v1h1v-1zM6 67v2h1v-2zM6 74v2h1v-2zM6 79v1h1v-1zM6 81v1h1v-1zM6 83v1h1v-1zM6 87v1h1v-1zM6 89v1h1v-1zM6 94v1h1v-1zM6 100v1h1v-1zM6 107v1h1v-1zM7 43v1h1v-1zM7 52v1h1v-1zM7 56v1h1v-1zM7 59v2h1v-2zM7 66v1h1v-1zM7 71v1h1v-1zM7 79v5h1v-5zM7 86v3h1v-3zM7 90v1h1v-1zM7 92v1h1v-1zM7 97v1h1v-1zM7 100v1h1v-1zM8 45v1h1v-1zM8 50v1h1v-1zM8 57v1h1v-1zM8 65v1h1v-1zM8 76v1h1v-1zM8 81v1h1v-1zM8 85v1h1v-1zM8 92v3h1v-3zM8 96v2h1v-2zM8 99v2h1v-2zM8 103v2h1v-2zM8 109v1h1v-1zM9 56v2h1v-2zM9 70v1h1v-1zM9 74v1h1v-1zM9 77v2h1v-2zM9 80v1h1v-1zM9 84v1h1v-1zM9 95v2h1v-2zM9 98v1h1v-1zM9 101v1h1v-1zM9 105v1h1v-1zM9 108v1h1v-1zM10 50v1h1v-1zM10 52v1h1v-1zM10 55v1h1v-1zM10 57v1h1v-1zM10 62v1h1v-1zM10 65v1h1v-1zM10 67v1h1v-1zM10 74v1h1v-1zM10 77v1h1v-1zM10 79v1h1v-1zM10 81v1h1v-1zM10 88v2h1v-2zM10 98v1h1v-1zM10 100v1h1v-1zM10 102v3h1v-3zM11 42v1h1v-1zM11 47v1h1v-1zM11 56v1h1v-1zM11 65v1h1v-1zM11 68v1h1v-1zM11 75v2h1v-2zM11 80v1h1v-1zM11 93v1h1v-1zM11 100v1h1v-1zM11 104v1h1v-1zM11 107v1h1v-1zM12 2v1h1v-1zM12 36v1h1v-1zM12 49v1h1v-1zM12 51v1h1v-1zM12 60v1h1v-1zM12 69v2h1v-2zM12 77v1h1v-1zM12 81v1h1v-1zM12 84v2h1v-2zM12 91v1h1v-1zM12 93v1h1v-1zM12 99v1h1v-1zM12 108v1h1v-1zM13 48v1h1v-1zM13 53v1h1v-1zM13 56v2h1v-2zM13 68v2h1v-2zM13 75v1h1v-1zM13 80v1h1v-1zM13 95v1h1v-1zM13 99v2h1v-2zM13 102v2h1v-2zM14 58v1h1v-1zM14 60v1h1v-1zM14 64v1h1v-1zM14 76v1h1v-1zM14 83v3h1v-3zM14 92v1h1v-1zM14 100v1h1v-1zM15 1v1h1v-1zM15 44v1h1v-1zM15 52v1h1v-1zM15 65v2h1v-2zM15 71v2h1v-2zM15 79v1h1v-1zM15 82v1h1v-1zM15 94v1h1v-1zM15 97v3h1v-3zM15 102v1h1v-1zM16 30v1h1v-1zM16 55v1h1v-1zM16 59v1h1v-1zM16 66v1h1v-1zM16 71v2h1v-2zM16 74v1h1v-1zM16 76v1h1v-1zM16 78v1h1v-1zM16 88v1h1v-1zM16 91v1h1v-1zM16 102v2h1v-2zM16 108v1h1v-1zM17 26v1h1v-1zM17 32v2h1v-2zM17 41v1h1v-1zM17 56v1h1v-1zM17 63v1h1v-1zM17 66v1h1v-1zM17 68v1h1v-1zM17 70v1h1v-1zM17 73v2h1v-2zM17 76v1h1v-1zM17 79v2h1v-2zM17 89v1h1v-1zM17 99v1h1v-1zM18 48v2h1v-2zM18 51v1h1v-1zM18 58v2h1v-2zM18 66v1h1v-1zM18 80v1h1v-1zM18 82v1h1v-1zM18 84v2h1v-2zM18 90v1h1v-1zM18 92v1h1v-1zM18 95v1h1v-1zM18 99v1h1v-1zM18 101v2h1v-2zM19 11v2h1v-2zM19 30v1h1v-1zM19 41v1h1v-1zM19 47v2h1v-2zM19 52v1h1v-1zM19 55v1h1v-1zM19 67v1h1v-1zM19 76v1h1v-1zM19 78v2h1v-2zM19 82v1h1v-1zM19 98v1h1v-1zM19 100v1h1v-1zM19 103v1h1v-1zM19 107v1h1v-1zM20 32v1h1v-1zM20 43v1h1v-1zM20 52v1h1v-1zM20 63v2h1v-2zM20 80v1h1v-1zM20 82v3h1v-3zM20 107v1h1v-1zM21 14v1h1v-1zM21 28v2h1v-2zM21 32v1h1v-1zM21 66v1h1v-1zM21 75v1h1v-1zM21 79v1h1v-1zM21 85v1h1v-1zM21 96v1h1v-1zM21 101v1h1v-1zM21 103v1h1v-1zM22 2v1h1v-1zM22 18v1h1v-1zM22 26v1h1v-1zM22 35v2h1v-2zM22 46v2h1v-2zM22 50v1h1v-1zM22 52v1h1v-1zM22 88v2h1v-2zM22 97v1h1v-1zM22 99v1h1v-1zM22 105v1h1v-1zM22 107v2h1v-2zM23 5v1h1v-1zM23 8v1h1v-1zM23 25v2h1v-2zM23 43v1h1v-1zM23 46v1h1v-1zM23 49v1h1v-1zM23 55v1h1v-1zM23 77v2h1v-2zM23 95v1h1v-1zM23 107v1h1v-1zM24 3v1h1v-1zM24 9v3h1v-3zM24 22v2h1v-2zM24 34v1h1v-1zM24 44v2h1v-2zM24 55v1h1v-1zM24 81v1h1v-1zM24 88v1h1v-1zM25 4v2h1v-2zM25 7v1h1v-1zM25 20v1h1v-1zM25 27v2h1v-2zM25 45v1h1v-1zM25 55v1h1v-1zM25 77v1h1v-1zM26 4v1h1v-1zM26 7v1h1v-1zM26 9v3h1v-3zM26 16v1h1v-1zM26 25v1h1v-1zM26 36v1h1v-1zM26 38v1h1v-1zM26 48v1h1v-1zM26 78v2h1v-2zM26 89v1h1v-1zM26 103v2h1v-2zM27 0v1h1v-1zM27 2v3h1v-3zM27 7v1h1v-1zM27 11v1h1v-1zM27 14v1h1v-1zM27 16v2h1v-2zM27 21v1h1v-1zM27 23v1h1v-1zM27 25v1h1v-1zM27 27v2h1v-2zM27 30v1h1v-1zM27 33v1h1v-1zM27 50v1h1v-1zM27 56v1h1v-1zM27 92v1h1v-1zM27 99v1h1v-1zM27 106v2h1v-2zM28 0v2h1v-2zM28 5v1h1v-1zM28 15v2h1v-2zM28 23v2h1v-2zM28 26v1h1v-1zM28 37v1h1v-1zM28 41v1h1v-1zM28 43v1h1v-1zM28 45v1h1v-1zM28 49v1h1v-1zM28 53v1h1v-1zM28 56v1h1v-1zM29 0v1h1v-1zM29 3v1h1v-1zM29 5v1h1v-1zM29 7v1h1v-1zM29 28v1h1v-1zM29 33v1h1v-1zM29 36v1h1v-1zM29 41v1h1v-1zM30 0v1h1v-1zM30 28v1h1v-1zM30 35v2h1v-2zM30 42v1h1v-1zM30 45v2h1v-2zM30 66v2h1v-2zM31 0v1h1v-1zM31 6v1h1v-1zM31 27v1h1v-1zM31 30v1h1v-1zM31 37v1h1v-1zM31 52v1h1v-1zM31 77v1h1v-1zM31 79v1h1v-1zM31 81v1h1v-1zM31 98v2h1v-2zM32 1v2h1v-2zM32 8v2h1v-2zM32 34v1h1v-1zM32 82v1h1v-1zM32 94v1h1v-1zM33 1v1h1v-1zM33 11v1h1v-1zM33 15v1h1v-1zM33 21v1h1v-1zM33 26v1h1v-1zM33 32v1h1v-1zM33 41v2h1v-2zM33 44v1h1v-1zM33 49v1h1v-1zM33 52v1h1v-1zM33 71v1h1v-1zM33 78v1h1v-1zM34 8v1h1v-1zM34 10v1h1v-1zM34 17v1h1v-1zM34 41v1h1v-1zM34 55v2h1v-2zM34 91v1h1v-1zM34 97v1h1v-1zM35 9v1h1v-1zM35 16v1h1v-1zM35 19v1h1v-1zM35 22v1h1v-1zM35 25v1h1v-1zM35 28v1h1v-1zM35 34v1h1v-1zM35 49v1h1v-1zM35 74v1h1v-1zM35 80v1h1v-1zM35 99v1h1v-1zM35 108v1h1v-1zM36 13v1h1v-1zM36 19v1h1v-1zM36 97v1h1v-1zM36 106v1h1v-1zM37 18v1h1v-1zM37 21v1h1v-1zM37 42v1h1v-1zM37 45v1h1v-1zM37 72v2h1v-2zM37 88v1h1v-1zM38 10v1h1v-1zM38 15v2h1v-2zM38 18v1h1v-1zM38 35v1h1v-1zM38 41v1h1v-1zM38 44v1h1v-1zM38 66v1h1v-1zM38 96v2h1v-2zM38 108v1h1v-1zM39 4v2h1v-2zM39 17v1h1v-1zM39 21v3h1v-3zM39 27v1h1v-1zM39 45v1h1v-1zM39 62v1h1v-1zM39 66v1h1v-1zM39 87v1h1v-1zM40 1v2h1v-2zM40 19v1h1v-1zM40 23v1h1v-1zM40 27v1h1v-1zM40 38v1h1v-1zM40 48v2h1v-2zM40 52v1h1v-1zM40 71v1h1v-1zM40 80v1h1v-1zM40 95v1h1v-1zM41 0v2h1v-2zM41 4v1h1v-1zM41 18v1h1v-1zM41 28v1h1v-1zM41 30v2h1v-2zM41 89v1h1v-1zM41 97v1h1v-1zM41 104v1h1v-1zM41 107v1h1v-1zM42 7v2h1v-2zM42 15v1h1v-1zM42 18v1h1v-1zM42 20v1h1v-1zM42 26v1h1v-1zM42 37v1h1v-1zM43 1v1h1v-1zM43 6v3h1v-3zM43 15v3h1v-3zM43 27v1h1v-1zM43 33v1h1v-1zM43 42v1h1v-1zM43 68v1h1v-1zM44 20v1h1v-1zM44 39v1h1v-1zM44 41v2h1v-2zM44 44v1h1v-1zM44 52v1h1v-1zM44 95v1h1v-1zM44 103v2h1v-2z" fill="#9690d6"/><path d="M0 64v1h1v-1zM0 66v1h1v-1zM0 71v2h1v-2zM0 74v1h1v-1zM0 77v1h1v-1zM0 79v2h1v-2zM0 84v1h1v-1zM0 92v2h1v-2zM0 95v2h1v-2zM0 98v1h1v-1zM0 102v1h1v-1zM0 105v1h1v-1zM0 108v1h1v-1zM1 17v1h1v-1zM1 35v1h1v-1zM1 42v1h1v-1zM1 44v1h1v-1zM1 47v1h1v-1zM1 51v1h1v-1zM1 53v1h1v-1zM1 55v1h1v-1zM1 78v1h1v-1zM1 86v1h1v-1zM1 89v3h1v-3zM1 94v1h1v-1zM1 96v1h1v-1zM1 98v1h1v-1zM1 107v1h1v-1zM2 33v1h1v-1zM2 35v1h1v-1zM2 37v1h1v-1zM2 41v1h1v-1zM2 44v1h1v-1zM2 48v1h1v-1zM2 60v2h1v-2zM2 65v1h1v-1zM2 67v2h1v-2zM2 70v4h1v-4zM2 75v2h1v-2zM2 78v2h1v-2zM2 82v1h1v-1zM2 89v3h1v-3zM2 97v3h1v-3zM2 102v1h1v-1zM3 47v1h1v-1zM3 53v1h1v-1zM3 56v1h1v-1zM3 61v1h1v-1zM3 63v1h1v-1zM3 72v2h1v-2zM3 78v1h1v-1zM3 81v1h1v-1zM3 86v3h1v-3zM3 102v1h1v-1zM3 107v2h1v-2zM4 1v1h1v-1zM4 10v1h1v-1zM4 60v1h1v-1zM4 64v3h1v-3zM4 72v2h1v-2zM4 90v1h1v-1zM4 101v1h1v-1zM4 103v1h1v-1zM4 107v1h1v-1zM5 4v1h1v-1zM5 39v1h1v-1zM5 52v1h1v-1zM5 55v1h1v-1zM5 66v1h1v-1zM5 70v4h1v-4zM5 76v1h1v-1zM5 79v1h1v-1zM5 83v1h1v-1zM5 89v2h1v-2zM5 93v2h1v-2zM5 97v2h1v-2zM5 104v1h1v-1zM6 5v1h1v-1zM6 32v1h1v-1zM6 45v1h1v-1zM6 54v1h1v-1zM6 59v1h1v-1zM6 66v1h1v-1zM6 70v2h1v-2zM6 73v1h1v-1zM6 82v1h1v-1zM6 85v1h1v-1zM6 90v1h1v-1zM6 96v1h1v-1zM6 98v2h1v-2zM6 103v1h1v-1zM6 106v1h1v-1zM6 108v1h1v-1zM7 45v1h1v-1zM7 49v1h1v-1zM7 57v1h1v-1zM7 61v3h1v-3zM7 69v1h1v-1zM7 78v1h1v-1zM7 101v1h1v-1zM7 105v1h1v-1zM7 107v2h1v-2zM8 49v1h1v-1zM8 60v2h1v-2zM8 72v1h1v-1zM8 74v2h1v-2zM8 83v1h1v-1zM8 86v1h1v-1zM8 88v1h1v-1zM8 102v1h1v-1zM8 105v1h1v-1zM8 107v2h1v-2zM9 36v1h1v-1zM9 49v1h1v-1zM9 58v2h1v-2zM9 61v1h1v-1zM9 64v3h1v-3zM9 68v1h1v-1zM9 71v1h1v-1zM9 73v1h1v-1zM9 75v1h1v-1zM9 83v1h1v-1zM9 92v3h1v-3zM9 97v1h1v-1zM9 99v2h1v-2zM9 103v2h1v-2zM9 109v1h1v-1zM10 35v1h1v-1zM10 51v1h1v-1zM10 54v1h1v-1zM10 58v2h1v-2zM10 63v1h1v-1zM10 68v2h1v-2zM10 71v1h1v-1zM10 94v3h1v-3zM10 101v1h1v-1zM10 105v2h1v-2zM10 108v1h1v-1zM11 41v1h1v-1zM11 45v1h1v-1zM11 48v1h1v-1zM11 62v2h1v-2zM11 66v1h1v-1zM11 70v3h1v-3zM11 81v2h1v-2zM11 85v2h1v-2zM11 89v1h1v-1zM11 95v2h1v-2zM11 103v1h1v-1zM11 109v1h1v-1zM12 5v1h1v-1zM12 8v1h1v-1zM12 32v2h1v-2zM12 37v1h1v-1zM12 41v1h1v-1zM12 43v1h1v-1zM12 48v1h1v-1zM12 54v1h1v-1zM12 66v2h1v-2zM12 74v1h1v-1zM12 80v1h1v-1zM12 82v2h1v-2zM12 92v1h1v-1zM12 94v1h1v-1zM12 97v2h1v-2zM12 103v1h1v-1zM12 107v1h1v-1zM12 109v1h1v-1zM13 12v1h1v-1zM13 15v1h1v-1zM13 32v1h1v-1zM13 50v2h1v-2zM13 59v1h1v-1zM13 66v1h1v-1zM13 79v1h1v-1zM13 82v2h1v-2zM13 85v1h1v-1zM13 87v3h1v-3zM13 91v2h1v-2zM13 94v1h1v-1zM13 97v1h1v-1zM13 104v1h1v-1zM13 109v1h1v-1zM14 0v1h1v-1zM14 10v1h1v-1zM14 20v1h1v-1zM14 30v3h1v-3zM14 42v1h1v-1zM14 48v1h1v-1zM14 65v1h1v-1zM14 71v1h1v-1zM14 75v1h1v-1zM14 79v1h1v-1zM14 88v1h1v-1zM14 90v1h1v-1zM14 94v2h1v-2zM14 99v1h1v-1zM14 103v1h1v-1zM14 105v1h1v-1zM14 109v1h1v-1zM15 0v1h1v-1zM15 7v1h1v-1zM15 15v1h1v-1zM15 27v1h1v-1zM15 37v1h1v-1zM15 45v1h1v-1zM15 48v2h1v-2zM15 58v2h1v-2zM15 63v2h1v-2zM15 67v2h1v-2zM15 77v2h1v-2zM15 84v1h1v-1zM15 88v2h1v-2zM15 91v1h1v-1zM15 100v2h1v-2zM15 105v1h1v-1zM15 109v1h1v-1zM16 10v1h1v-1zM16 36v2h1v-2zM16 46v2h1v-2zM16 56v1h1v-1zM16 58v1h1v-1zM16 60v1h1v-1zM16 65v1h1v-1zM16 69v1h1v-1zM16 75v1h1v-1zM16 77v1h1v-1zM16 89v1h1v-1zM16 104v1h1v-1zM16 109v1h1v-1zM17 8v2h1v-2zM17 27v1h1v-1zM17 47v1h1v-1zM17 50v1h1v-1zM17 54v1h1v-1zM17 57v2h1v-2zM17 64v1h1v-1zM17 71v2h1v-2zM17 77v1h1v-1zM17 100v2h1v-2zM17 103v1h1v-1zM17 108v2h1v-2zM18 22v1h1v-1zM18 30v1h1v-1zM18 33v2h1v-2zM18 45v1h1v-1zM18 50v1h1v-1zM18 64v2h1v-2zM18 67v1h1v-1zM18 72v2h1v-2zM18 83v1h1v-1zM18 97v1h1v-1zM18 106v2h1v-2zM19 3v1h1v-1zM19 16v1h1v-1zM19 19v2h1v-2zM19 25v1h1v-1zM19 29v1h1v-1zM19 40v1h1v-1zM19 44v3h1v-3zM19 49v1h1v-1zM19 54v1h1v-1zM19 65v1h1v-1zM19 71v1h1v-1zM19 73v1h1v-1zM19 77v1h1v-1zM19 85v1h1v-1zM19 88v2h1v-2zM19 91v2h1v-2zM19 96v2h1v-2zM19 101v1h1v-1zM19 105v1h1v-1zM19 108v1h1v-1zM20 14v2h1v-2zM20 20v1h1v-1zM20 30v2h1v-2zM20 35v2h1v-2zM20 60v2h1v-2zM20 71v2h1v-2zM20 79v1h1v-1zM20 81v1h1v-1zM20 99v1h1v-1zM20 103v1h1v-1zM20 105v2h1v-2zM21 1v1h1v-1zM21 3v1h1v-1zM21 15v1h1v-1zM21 17v1h1v-1zM21 19v1h1v-1zM21 31v1h1v-1zM21 39v1h1v-1zM21 45v1h1v-1zM21 49v1h1v-1zM21 59v1h1v-1zM21 61v2h1v-2zM21 65v1h1v-1zM21 78v1h1v-1zM21 89v1h1v-1zM21 98v1h1v-1zM21 102v1h1v-1zM21 107v1h1v-1zM22 3v4h1v-4zM22 19v1h1v-1zM22 21v1h1v-1zM22 23v1h1v-1zM22 27v1h1v-1zM22 32v1h1v-1zM22 45v1h1v-1zM22 48v1h1v-1zM22 55v2h1v-2zM22 60v1h1v-1zM22 67v1h1v-1zM22 80v1h1v-1zM22 82v1h1v-1zM22 98v1h1v-1zM23 1v1h1v-1zM23 3v2h1v-2zM23 11v1h1v-1zM23 14v1h1v-1zM23 24v1h1v-1zM23 27v2h1v-2zM23 32v2h1v-2zM23 42v1h1v-1zM23 50v1h1v-1zM23 52v1h1v-1zM23 65v1h1v-1zM23 76v1h1v-1zM23 79v1h1v-1zM23 88v2h1v-2zM23 96v1h1v-1zM23 98v1h1v-1zM23 101v2h1v-2zM23 106v1h1v-1zM24 1v2h1v-2zM24 12v3h1v-3zM24 26v1h1v-1zM24 29v1h1v-1zM24 43v1h1v-1zM24 50v1h1v-1zM24 56v2h1v-2zM24 76v1h1v-1zM24 89v1h1v-1zM24 96v3h1v-3zM24 100v1h1v-1zM24 106v1h1v-1zM24 108v1h1v-1zM25 6v1h1v-1zM25 13v2h1v-2zM25 21v2h1v-2zM25 24v2h1v-2zM25 29v1h1v-1zM25 31v3h1v-3zM25 36v1h1v-1zM25 46v1h1v-1zM25 48v1h1v-1zM25 52v1h1v-1zM25 57v1h1v-1zM25 59v1h1v-1zM25 62v2h1v-2zM25 78v1h1v-1zM25 98v1h1v-1zM25 106v1h1v-1zM26 3v1h1v-1zM26 13v1h1v-1zM26 20v1h1v-1zM26 28v1h1v-1zM26 32v2h1v-2zM26 39v1h1v-1zM26 41v1h1v-1zM26 43v2h1v-2zM26 47v1h1v-1zM26 52v1h1v-1zM26 83v1h1v-1zM26 88v1h1v-1zM26 92v1h1v-1zM26 100v1h1v-1zM27 1v1h1v-1zM27 24v1h1v-1zM27 32v1h1v-1zM27 36v1h1v-1zM27 47v3h1v-3zM27 52v1h1v-1zM27 55v1h1v-1zM27 57v1h1v-1zM27 62v1h1v-1zM27 72v2h1v-2zM27 78v1h1v-1zM27 81v1h1v-1zM27 98v1h1v-1zM27 108v2h1v-2zM28 2v1h1v-1zM28 27v1h1v-1zM28 30v2h1v-2zM28 33v2h1v-2zM28 46v1h1v-1zM28 48v1h1v-1zM28 50v3h1v-3zM28 85v2h1v-2zM28 96v1h1v-1zM28 98v1h1v-1zM29 1v2h1v-2zM29 42v5h1v-5zM29 53v2h1v-2zM29 57v1h1v-1zM29 88v2h1v-2zM29 93v4h1v-4zM29 106v1h1v-1zM30 1v1h1v-1zM30 3v1h1v-1zM30 41v1h1v-1zM30 50v5h1v-5zM30 86v1h1v-1zM30 96v2h1v-2zM31 1v2h1v-2zM31 5v1h1v-1zM31 9v1h1v-1zM31 11v1h1v-1zM31 13v1h1v-1zM31 16v2h1v-2zM31 24v1h1v-1zM31 29v1h1v-1zM31 32v1h1v-1zM31 38v2h1v-2zM31 46v1h1v-1zM31 53v1h1v-1zM31 57v1h1v-1zM31 78v1h1v-1zM31 97v1h1v-1zM31 100v1h1v-1zM31 103v1h1v-1zM32 0v1h1v-1zM32 5v2h1v-2zM32 10v1h1v-1zM32 14v3h1v-3zM32 25v1h1v-1zM32 35v2h1v-2zM32 40v3h1v-3zM32 45v3h1v-3zM32 57v1h1v-1zM32 60v1h1v-1zM32 75v1h1v-1zM32 81v1h1v-1zM32 95v2h1v-2zM32 107v2h1v-2zM33 0v1h1v-1zM33 5v3h1v-3zM33 10v1h1v-1zM33 14v1h1v-1zM33 20v1h1v-1zM33 23v2h1v-2zM33 35v1h1v-1zM33 39v1h1v-1zM33 43v1h1v-1zM33 45v1h1v-1zM33 50v1h1v-1zM33 53v1h1v-1zM33 63v1h1v-1zM33 70v1h1v-1zM33 74v1h1v-1zM33 77v1h1v-1zM33 79v2h1v-2zM33 86v1h1v-1zM33 97v1h1v-1zM33 103v1h1v-1zM33 109v1h1v-1zM34 4v1h1v-1zM34 6v1h1v-1zM34 18v4h1v-4zM34 27v2h1v-2zM34 33v1h1v-1zM34 37v1h1v-1zM34 39v1h1v-1zM34 42v1h1v-1zM34 52v1h1v-1zM34 66v1h1v-1zM34 73v1h1v-1zM34 86v1h1v-1zM34 95v2h1v-2zM34 100v1h1v-1zM35 2v2h1v-2zM35 10v1h1v-1zM35 17v2h1v-2zM35 20v1h1v-1zM35 26v1h1v-1zM35 36v1h1v-1zM35 41v1h1v-1zM35 44v1h1v-1zM35 51v1h1v-1zM35 56v2h1v-2zM35 59v2h1v-2zM35 62v1h1v-1zM35 71v1h1v-1zM35 83v1h1v-1zM35 87v1h1v-1zM35 94v1h1v-1zM36 7v1h1v-1zM36 10v2h1v-2zM36 17v2h1v-2zM36 27v1h1v-1zM36 35v1h1v-1zM36 59v1h1v-1zM36 78v1h1v-1zM36 87v1h1v-1zM36 107v2h1v-2zM37 2v2h1v-2zM37 9v1h1v-1zM37 12v1h1v-1zM37 22v2h1v-2zM37 30v1h1v-1zM37 32v1h1v-1zM37 46v1h1v-1zM37 48v2h1v-2zM37 53v1h1v-1zM37 60v1h1v-1zM37 65v1h1v-1zM37 71v1h1v-1zM37 81v1h1v-1zM37 89v1h1v-1zM38 5v1h1v-1zM38 9v1h1v-1zM38 14v1h1v-1zM38 20v1h1v-1zM38 24v2h1v-2zM38 36v1h1v-1zM38 43v1h1v-1zM38 55v1h1v-1zM38 57v1h1v-1zM38 69v1h1v-1zM38 109v1h1v-1zM39 1v3h1v-3zM39 7v2h1v-2zM39 10v1h1v-1zM39 12v1h1v-1zM39 18v2h1v-2zM39 24v1h1v-1zM39 30v1h1v-1zM39 40v1h1v-1zM39 63v1h1v-1zM39 68v1h1v-1zM39 76v1h1v-1zM39 95v2h1v-2zM40 0v1h1v-1zM40 7v1h1v-1zM40 13v1h1v-1zM40 18v1h1v-1zM40 20v1h1v-1zM40 22v1h1v-1zM40 24v1h1v-1zM40 30v1h1v-1zM40 39v1h1v-1zM40 42v1h1v-1zM40 50v2h1v-2zM40 69v1h1v-1zM40 74v2h1v-2zM40 78v1h1v-1zM40 94v1h1v-1zM40 97v1h1v-1zM41 2v1h1v-1zM41 5v1h1v-1zM41 11v1h1v-1zM41 15v1h1v-1zM41 20v1h1v-1zM41 27v1h1v-1zM41 32v1h1v-1zM41 36v1h1v-1zM41 39v1h1v-1zM41 43v3h1v-3zM41 52v2h1v-2zM41 72v1h1v-1zM41 98v1h1v-1zM41 108v1h1v-1zM42 0v1h1v-1zM42 5v2h1v-2zM42 9v1h1v-1zM42 11v1h1v-1zM42 16v2h1v-2zM42 19v1h1v-1zM42 21v2h1v-2zM42 27v3h1v-3zM42 32v1h1v-1zM42 34v1h1v-1zM42 36v1h1v-1zM42 38v2h1v-2zM42 41v5h1v-5zM42 55v1h1v-1zM42 65v1h1v-1zM42 75v1h1v-1zM42 91v1h1v-1zM42 94v2h1v-2zM42 97v2h1v-2zM43 9v1h1v-1zM43 22v1h1v-1zM43 24v3h1v-3zM43 32v1h1v-1zM43 38v1h1v-1zM43 40v1h1v-1zM43 43v1h1v-1zM43 51v1h1v-1zM43 56v1h1v-1zM43 65v3h1v-3zM43 79v1h1v-1zM43 85v1h1v-1zM43 100v1h1v-1zM43 104v1h1v-1zM44 2v2h1v-2zM44 10v1h1v-1zM44 19v1h1v-1zM44 24v1h1v-1zM44 32v1h1v-1zM44 35v1h1v-1zM44 43v1h1v-1zM44 53v1h1v-1zM44 57v1h1v-1zM44 72v1h1v-1zM44 75v1h1v-1zM44 77v2h1v-2zM44 81v1h1v-1zM44 92v1h1v-1zM44 100v1h1v-1zM44 107v2h1v-2z" fill="#c4bce8"/><path d="M0 1v1h1v-1zM0 10v1h1v-1zM0 12v1h1v-1zM0 15v1h1v-1zM0 32v4h1v-4zM0 39v1h1v-1zM0 41v2h1v-2zM0 44v2h1v-2zM0 48v1h1v-1zM0 50v1h1v-1zM0 54v1h1v-1zM0 60v1h1v-1zM0 68v3h1v-3zM0 81v2h1v-2zM0 88v2h1v-2zM0 91v1h1v-1zM0 99v2h1v-2zM0 106v2h1v-2zM1 0v3h1v-3zM1 6v2h1v-2zM1 13v1h1v-1zM1 19v1h1v-1zM1 21v3h1v-3zM1 25v2h1v-2zM1 36v1h1v-1zM1 40v1h1v-1zM1 43v1h1v-1zM1 46v1h1v-1zM1 54v1h1v-1zM1 62v2h1v-2zM1 67v1h1v-1zM1 70v1h1v-1zM1 81v1h1v-1zM1 83v2h1v-2zM1 92v1h1v-1zM1 100v1h1v-1zM1 103v1h1v-1zM1 106v1h1v-1zM1 109v1h1v-1zM2 0v2h1v-2zM2 5v2h1v-2zM2 9v2h1v-2zM2 15v1h1v-1zM2 18v1h1v-1zM2 20v4h1v-4zM2 39v1h1v-1zM2 46v2h1v-2zM2 50v2h1v-2zM2 54v1h1v-1zM2 58v1h1v-1zM2 66v1h1v-1zM2 74v1h1v-1zM2 77v1h1v-1zM2 94v1h1v-1zM2 96v1h1v-1zM2 105v1h1v-1zM3 16v1h1v-1zM3 20v1h1v-1zM3 22v1h1v-1zM3 29v2h1v-2zM3 32v1h1v-1zM3 39v2h1v-2zM3 44v1h1v-1zM3 74v2h1v-2zM3 90v2h1v-2zM3 95v2h1v-2zM3 105v2h1v-2zM4 0v1h1v-1zM4 3v1h1v-1zM4 5v1h1v-1zM4 9v1h1v-1zM4 24v1h1v-1zM4 26v2h1v-2zM4 35v1h1v-1zM4 37v2h1v-2zM4 40v1h1v-1zM4 42v1h1v-1zM4 44v2h1v-2zM4 52v4h1v-4zM4 67v1h1v-1zM4 69v1h1v-1zM4 84v1h1v-1zM4 95v1h1v-1zM4 102v1h1v-1zM4 104v1h1v-1zM4 108v2h1v-2zM5 0v2h1v-2zM5 5v1h1v-1zM5 9v1h1v-1zM5 14v1h1v-1zM5 22v1h1v-1zM5 25v1h1v-1zM5 29v2h1v-2zM5 35v2h1v-2zM5 40v1h1v-1zM5 43v3h1v-3zM5 47v1h1v-1zM5 53v1h1v-1zM5 58v2h1v-2zM5 61v2h1v-2zM5 84v1h1v-1zM5 86v1h1v-1zM5 108v1h1v-1zM6 0v1h1v-1zM6 8v1h1v-1zM6 15v1h1v-1zM6 20v1h1v-1zM6 43v2h1v-2zM6 47v5h1v-5zM6 55v1h1v-1zM6 57v2h1v-2zM6 63v2h1v-2zM6 72v1h1v-1zM6 84v1h1v-1zM6 109v1h1v-1zM7 2v2h1v-2zM7 27v1h1v-1zM7 33v2h1v-2zM7 36v2h1v-2zM7 48v1h1v-1zM7 50v2h1v-2zM7 65v1h1v-1zM7 70v1h1v-1zM7 85v1h1v-1zM7 91v1h1v-1zM7 102v2h1v-2zM8 8v1h1v-1zM8 30v1h1v-1zM8 36v1h1v-1zM8 41v1h1v-1zM8 44v1h1v-1zM8 51v2h1v-2zM8 68v2h1v-2zM8 78v1h1v-1zM8 84v1h1v-1zM8 95v1h1v-1zM9 1v1h1v-1zM9 4v1h1v-1zM9 10v1h1v-1zM9 37v1h1v-1zM9 39v1h1v-1zM9 43v1h1v-1zM9 47v1h1v-1zM9 51v1h1v-1zM9 53v1h1v-1zM9 72v1h1v-1zM9 76v1h1v-1zM9 81v2h1v-2zM9 87v2h1v-2zM9 90v2h1v-2zM9 107v1h1v-1zM10 1v1h1v-1zM10 3v3h1v-3zM10 10v1h1v-1zM10 38v3h1v-3zM10 45v1h1v-1zM10 47v1h1v-1zM10 61v1h1v-1zM10 92v1h1v-1zM10 109v1h1v-1zM11 0v1h1v-1zM11 5v2h1v-2zM11 8v2h1v-2zM11 11v1h1v-1zM11 29v2h1v-2zM11 32v1h1v-1zM11 51v2h1v-2zM11 58v1h1v-1zM11 61v1h1v-1zM11 64v1h1v-1zM11 73v2h1v-2zM11 87v2h1v-2zM11 91v1h1v-1zM11 101v2h1v-2zM11 105v1h1v-1zM12 6v1h1v-1zM12 19v2h1v-2zM12 39v1h1v-1zM12 52v1h1v-1zM12 58v1h1v-1zM12 64v2h1v-2zM12 106v1h1v-1zM13 1v1h1v-1zM13 5v1h1v-1zM13 16v1h1v-1zM13 26v1h1v-1zM13 35v1h1v-1zM13 38v2h1v-2zM13 41v1h1v-1zM13 47v1h1v-1zM13 60v1h1v-1zM13 63v1h1v-1zM13 67v1h1v-1zM13 70v1h1v-1zM13 77v1h1v-1zM13 90v1h1v-1zM13 106v1h1v-1zM14 5v1h1v-1zM14 7v2h1v-2zM14 11v4h1v-4zM14 17v1h1v-1zM14 27v2h1v-2zM14 41v1h1v-1zM14 51v1h1v-1zM14 54v2h1v-2zM14 62v1h1v-1zM14 70v1h1v-1zM14 77v1h1v-1zM15 11v1h1v-1zM15 13v1h1v-1zM15 16v1h1v-1zM15 22v1h1v-1zM15 24v1h1v-1zM15 34v1h1v-1zM15 40v1h1v-1zM15 50v2h1v-2zM15 57v1h1v-1zM15 60v1h1v-1zM15 70v1h1v-1zM15 90v1h1v-1zM15 93v1h1v-1zM15 107v1h1v-1zM16 4v1h1v-1zM16 7v1h1v-1zM16 9v1h1v-1zM16 11v2h1v-2zM16 14v1h1v-1zM16 18v2h1v-2zM16 24v1h1v-1zM16 28v1h1v-1zM16 35v1h1v-1zM16 39v1h1v-1zM16 42v1h1v-1zM16 44v1h1v-1zM16 54v1h1v-1zM16 63v2h1v-2zM16 81v2h1v-2zM16 85v1h1v-1zM16 93v1h1v-1zM16 105v1h1v-1zM16 107v1h1v-1zM17 1v1h1v-1zM17 6v2h1v-2zM17 11v2h1v-2zM17 19v3h1v-3zM17 23v1h1v-1zM17 29v1h1v-1zM17 38v1h1v-1zM17 40v1h1v-1zM17 44v2h1v-2zM17 48v1h1v-1zM17 52v2h1v-2zM17 61v1h1v-1zM17 65v1h1v-1zM17 84v2h1v-2zM17 87v1h1v-1zM17 90v1h1v-1zM17 98v1h1v-1zM18 0v1h1v-1zM18 3v2h1v-2zM18 6v3h1v-3zM18 10v1h1v-1zM18 14v1h1v-1zM18 18v3h1v-3zM18 24v3h1v-3zM18 35v2h1v-2zM18 42v1h1v-1zM18 46v2h1v-2zM18 53v2h1v-2zM18 56v1h1v-1zM18 63v1h1v-1zM18 76v2h1v-2zM18 79v1h1v-1zM18 91v1h1v-1zM18 94v1h1v-1zM18 105v1h1v-1zM18 108v1h1v-1zM19 4v1h1v-1zM19 7v4h1v-4zM19 15v1h1v-1zM19 18v1h1v-1zM19 24v1h1v-1zM19 26v2h1v-2zM19 32v1h1v-1zM19 37v1h1v-1zM19 42v1h1v-1zM19 58v1h1v-1zM19 61v1h1v-1zM19 63v1h1v-1zM19 68v1h1v-1zM19 74v1h1v-1zM19 93v1h1v-1zM19 95v1h1v-1zM20 5v1h1v-1zM20 10v1h1v-1zM20 12v1h1v-1zM20 18v1h1v-1zM20 21v1h1v-1zM20 24v1h1v-1zM20 26v1h1v-1zM20 34v1h1v-1zM20 37v1h1v-1zM20 42v1h1v-1zM20 45v1h1v-1zM20 59v1h1v-1zM20 67v3h1v-3zM20 73v2h1v-2zM20 76v2h1v-2zM20 87v1h1v-1zM20 90v1h1v-1zM20 92v2h1v-2zM21 8v1h1v-1zM21 10v3h1v-3zM21 20v1h1v-1zM21 25v1h1v-1zM21 34v1h1v-1zM21 37v1h1v-1zM21 40v2h1v-2zM21 43v2h1v-2zM21 46v2h1v-2zM21 53v2h1v-2zM21 56v1h1v-1zM21 64v1h1v-1zM21 68v1h1v-1zM21 70v1h1v-1zM21 80v1h1v-1zM21 84v1h1v-1zM21 90v1h1v-1zM21 94v1h1v-1zM22 0v1h1v-1zM22 7v1h1v-1zM22 11v1h1v-1zM22 25v1h1v-1zM22 33v2h1v-2zM22 39v1h1v-1zM22 44v1h1v-1zM22 57v1h1v-1zM22 64v1h1v-1zM22 66v1h1v-1zM22 69v1h1v-1zM22 76v2h1v-2zM22 79v1h1v-1zM22 83v2h1v-2zM22 87v1h1v-1zM22 92v1h1v-1zM22 94v2h1v-2zM22 103v2h1v-2zM23 16v1h1v-1zM23 20v3h1v-3zM23 29v1h1v-1zM23 34v1h1v-1zM23 36v2h1v-2zM23 39v1h1v-1zM23 41v1h1v-1zM23 44v1h1v-1zM23 56v2h1v-2zM23 60v1h1v-1zM23 62v2h1v-2zM23 69v1h1v-1zM23 71v1h1v-1zM23 80v5h1v-5zM23 86v2h1v-2zM23 92v1h1v-1zM23 97v1h1v-1zM24 0v1h1v-1zM24 4v1h1v-1zM24 16v3h1v-3zM24 24v1h1v-1zM24 31v1h1v-1zM24 35v2h1v-2zM24 38v2h1v-2zM24 42v1h1v-1zM24 46v1h1v-1zM24 53v2h1v-2zM24 59v2h1v-2zM24 64v3h1v-3zM24 75v1h1v-1zM24 78v1h1v-1zM24 82v1h1v-1zM24 85v2h1v-2zM24 90v1h1v-1zM24 92v1h1v-1zM24 102v1h1v-1zM24 104v1h1v-1zM25 26v1h1v-1zM25 30v1h1v-1zM25 34v2h1v-2zM25 37v1h1v-1zM25 40v1h1v-1zM25 47v1h1v-1zM25 53v2h1v-2zM25 58v1h1v-1zM25 61v1h1v-1zM25 65v1h1v-1zM25 67v1h1v-1zM25 74v1h1v-1zM25 76v1h1v-1zM25 80v2h1v-2zM25 84v4h1v-4zM25 100v4h1v-4zM26 12v1h1v-1zM26 22v2h1v-2zM26 30v1h1v-1zM26 35v1h1v-1zM26 40v1h1v-1zM26 49v2h1v-2zM26 53v1h1v-1zM26 58v3h1v-3zM26 62v1h1v-1zM26 69v2h1v-2zM26 72v1h1v-1zM26 85v1h1v-1zM26 96v3h1v-3zM26 102v1h1v-1zM26 105v1h1v-1zM27 37v1h1v-1zM27 39v1h1v-1zM27 42v2h1v-2zM27 51v1h1v-1zM27 58v2h1v-2zM27 65v1h1v-1zM27 68v1h1v-1zM27 70v1h1v-1zM27 74v2h1v-2zM27 79v1h1v-1zM27 83v4h1v-4zM27 88v1h1v-1zM27 90v1h1v-1zM27 94v1h1v-1zM27 96v1h1v-1zM27 104v2h1v-2zM28 39v1h1v-1zM28 44v1h1v-1zM28 59v2h1v-2zM28 65v2h1v-2zM28 72v1h1v-1zM28 79v3h1v-3zM28 84v1h1v-1zM28 87v3h1v-3zM28 92v2h1v-2zM28 99v1h1v-1zM28 102v1h1v-1zM28 106v1h1v-1zM28 109v1h1v-1zM29 34v1h1v-1zM29 39v1h1v-1zM29 51v2h1v-2zM29 56v1h1v-1zM29 76v1h1v-1zM29 78v2h1v-2zM29 81v2h1v-2zM29 84v1h1v-1zM29 87v1h1v-1zM29 92v1h1v-1zM29 98v1h1v-1zM29 100v2h1v-2zM29 103v2h1v-2zM30 40v1h1v-1zM30 48v2h1v-2zM30 56v2h1v-2zM30 60v1h1v-1zM30 65v1h1v-1zM30 68v1h1v-1zM30 72v1h1v-1zM30 88v2h1v-2zM30 98v3h1v-3zM30 104v1h1v-1zM30 109v1h1v-1zM31 12v1h1v-1zM31 31v1h1v-1zM31 33v2h1v-2zM31 40v3h1v-3zM31 49v1h1v-1zM31 54v1h1v-1zM31 56v1h1v-1zM31 60v1h1v-1zM31 74v1h1v-1zM31 84v4h1v-4zM31 89v1h1v-1zM31 92v1h1v-1zM31 96v1h1v-1zM32 3v1h1v-1zM32 28v3h1v-3zM32 39v1h1v-1zM32 44v1h1v-1zM32 52v3h1v-3zM32 59v1h1v-1zM32 61v1h1v-1zM32 71v1h1v-1zM32 73v1h1v-1zM32 77v4h1v-4zM32 85v1h1v-1zM32 91v1h1v-1zM32 93v1h1v-1zM32 99v1h1v-1zM32 106v1h1v-1zM33 2v2h1v-2zM33 9v1h1v-1zM33 27v1h1v-1zM33 34v1h1v-1zM33 46v1h1v-1zM33 51v1h1v-1zM33 54v1h1v-1zM33 56v1h1v-1zM33 59v2h1v-2zM33 64v3h1v-3zM33 72v1h1v-1zM33 81v1h1v-1zM33 87v5h1v-5zM33 93v2h1v-2zM33 101v1h1v-1zM33 104v1h1v-1zM33 107v1h1v-1zM34 15v1h1v-1zM34 24v1h1v-1zM34 26v1h1v-1zM34 43v1h1v-1zM34 45v1h1v-1zM34 47v1h1v-1zM34 49v1h1v-1zM34 51v1h1v-1zM34 54v1h1v-1zM34 60v1h1v-1zM34 70v1h1v-1zM34 72v1h1v-1zM34 74v1h1v-1zM34 79v1h1v-1zM34 82v1h1v-1zM34 90v1h1v-1zM34 92v1h1v-1zM34 99v1h1v-1zM34 101v1h1v-1zM34 108v1h1v-1zM35 6v1h1v-1zM35 8v1h1v-1zM35 11v1h1v-1zM35 29v1h1v-1zM35 32v1h1v-1zM35 37v4h1v-4zM35 45v1h1v-1zM35 61v1h1v-1zM35 64v1h1v-1zM35 66v1h1v-1zM35 73v1h1v-1zM35 77v1h1v-1zM35 79v1h1v-1zM35 95v1h1v-1zM35 97v2h1v-2zM35 101v1h1v-1zM35 103v1h1v-1zM35 105v1h1v-1zM36 4v2h1v-2zM36 8v2h1v-2zM36 30v1h1v-1zM36 33v2h1v-2zM36 38v3h1v-3zM36 44v2h1v-2zM36 47v1h1v-1zM36 50v1h1v-1zM36 55v1h1v-1zM36 57v1h1v-1zM36 60v1h1v-1zM36 63v1h1v-1zM36 65v1h1v-1zM36 67v1h1v-1zM36 70v1h1v-1zM36 73v1h1v-1zM36 77v1h1v-1zM36 80v2h1v-2zM36 83v2h1v-2zM36 86v1h1v-1zM36 88v1h1v-1zM36 92v4h1v-4zM36 101v2h1v-2zM36 105v1h1v-1zM36 109v1h1v-1zM37 1v1h1v-1zM37 6v1h1v-1zM37 26v1h1v-1zM37 29v1h1v-1zM37 31v1h1v-1zM37 33v2h1v-2zM37 41v1h1v-1zM37 43v1h1v-1zM37 51v1h1v-1zM37 54v1h1v-1zM37 56v1h1v-1zM37 61v1h1v-1zM37 69v2h1v-2zM37 74v2h1v-2zM37 82v2h1v-2zM37 99v1h1v-1zM37 101v3h1v-3zM38 7v1h1v-1zM38 12v1h1v-1zM38 23v1h1v-1zM38 28v1h1v-1zM38 32v1h1v-1zM38 34v1h1v-1zM38 45v1h1v-1zM38 49v2h1v-2zM38 62v1h1v-1zM38 71v1h1v-1zM38 73v1h1v-1zM38 76v1h1v-1zM38 79v2h1v-2zM38 85v1h1v-1zM38 88v1h1v-1zM38 90v1h1v-1zM38 92v1h1v-1zM38 94v2h1v-2zM38 99v1h1v-1zM38 101v2h1v-2zM38 104v2h1v-2zM39 6v1h1v-1zM39 9v1h1v-1zM39 25v2h1v-2zM39 28v1h1v-1zM39 31v1h1v-1zM39 48v2h1v-2zM39 53v2h1v-2zM39 64v1h1v-1zM39 67v1h1v-1zM39 69v2h1v-2zM39 74v1h1v-1zM39 77v1h1v-1zM39 80v1h1v-1zM39 84v2h1v-2zM39 97v2h1v-2zM39 100v1h1v-1zM40 4v1h1v-1zM40 10v1h1v-1zM40 17v1h1v-1zM40 28v2h1v-2zM40 31v1h1v-1zM40 34v1h1v-1zM40 41v1h1v-1zM40 54v2h1v-2zM40 58v2h1v-2zM40 65v1h1v-1zM40 70v1h1v-1zM40 73v1h1v-1zM40 77v1h1v-1zM40 82v3h1v-3zM40 88v1h1v-1zM40 90v4h1v-4zM40 100v1h1v-1zM40 102v1h1v-1zM41 7v2h1v-2zM41 10v1h1v-1zM41 13v1h1v-1zM41 17v1h1v-1zM41 22v1h1v-1zM41 25v1h1v-1zM41 33v1h1v-1zM41 37v1h1v-1zM41 50v2h1v-2zM41 58v1h1v-1zM41 60v1h1v-1zM41 71v1h1v-1zM41 75v2h1v-2zM41 79v1h1v-1zM41 83v4h1v-4zM41 90v1h1v-1zM41 93v1h1v-1zM41 95v1h1v-1zM41 99v2h1v-2zM41 102v1h1v-1zM41 105v1h1v-1zM42 2v1h1v-1zM42 13v2h1v-2zM42 24v1h1v-1zM42 35v1h1v-1zM42 40v1h1v-1zM42 46v8h1v-8zM42 58v6h1v-6zM42 66v1h1v-1zM42 68v1h1v-1zM42 71v1h1v-1zM42 78v1h1v-1zM42 81v1h1v-1zM42 83v8h1v-8zM42 99v1h1v-1zM42 109v1h1v-1zM43 18v1h1v-1zM43 20v1h1v-1zM43 37v1h1v-1zM43 45v1h1v-1zM43 52v3h1v-3zM43 57v1h1v-1zM43 60v1h1v-1zM43 62v3h1v-3zM43 75v3h1v-3zM43 89v1h1v-1zM43 95v1h1v-1zM43 98v1h1v-1zM43 101v1h1v-1zM43 107v2h1v-2zM44 0v1h1v-1zM44 4v2h1v-2zM44 12v1h1v-1zM44 14v2h1v-2zM44 21v1h1v-1zM44 25v2h1v-2zM44 33v2h1v-2zM44 38v1h1v-1zM44 48v1h1v-1zM44 50v1h1v-1zM44 59v2h1v-2zM44 66v1h1v-1zM44 70v1h1v-1zM44 73v1h1v-1zM44 85v1h1v-1zM44 91v1h1v-1zM44 97v1h1v-1zM44 99v1h1v-1zM44 102v1h1v-1z" fill="#f8c6c6"/><path d="M0 4v2h1v-2zM0 7v3h1v-3zM0 13v2h1v-2zM0 20v2h1v-2zM0 26v2h1v-2zM0 30v2h1v-2zM0 36v1h1v-1zM0 40v1h1v-1zM0 58v2h1v-2zM0 61v1h1v-1zM0 90v1h1v-1zM1 3v1h1v-1zM1 8v1h1v-1zM1 14v1h1v-1zM1 16v1h1v-1zM1 20v1h1v-1zM1 27v1h1v-1zM1 33v1h1v-1zM1 102v1h1v-1zM1 104v1h1v-1zM2 2v3h1v-3zM2 7v1h1v-1zM2 27v4h1v-4zM2 38v1h1v-1zM2 52v1h1v-1zM2 63v1h1v-1zM2 95v1h1v-1zM2 107v1h1v-1zM3 4v2h1v-2zM3 10v3h1v-3zM3 23v1h1v-1zM3 25v1h1v-1zM3 34v3h1v-3zM3 42v2h1v-2zM4 4v1h1v-1zM4 17v1h1v-1zM4 20v1h1v-1zM4 25v1h1v-1zM4 31v1h1v-1zM4 43v1h1v-1zM4 47v1h1v-1zM4 70v1h1v-1zM4 105v1h1v-1zM5 2v1h1v-1zM5 10v1h1v-1zM5 13v1h1v-1zM5 15v1h1v-1zM5 19v2h1v-2zM5 23v2h1v-2zM5 26v3h1v-3zM5 33v2h1v-2zM5 37v1h1v-1zM5 85v1h1v-1zM5 107v1h1v-1zM6 1v1h1v-1zM6 4v1h1v-1zM6 9v1h1v-1zM6 21v1h1v-1zM6 31v1h1v-1zM6 34v1h1v-1zM6 37v1h1v-1zM6 102v1h1v-1zM7 0v1h1v-1zM7 6v1h1v-1zM7 8v1h1v-1zM7 13v1h1v-1zM7 20v1h1v-1zM7 28v1h1v-1zM7 32v1h1v-1zM7 35v1h1v-1zM7 39v1h1v-1zM7 64v1h1v-1zM8 0v2h1v-2zM8 7v1h1v-1zM8 9v1h1v-1zM8 12v1h1v-1zM8 23v1h1v-1zM8 33v3h1v-3zM8 38v1h1v-1zM8 40v1h1v-1zM8 42v2h1v-2zM8 47v1h1v-1zM8 58v1h1v-1zM8 64v1h1v-1zM8 70v1h1v-1zM8 77v1h1v-1zM9 2v1h1v-1zM9 7v1h1v-1zM9 11v1h1v-1zM9 17v1h1v-1zM9 30v1h1v-1zM9 38v1h1v-1zM9 40v2h1v-2zM9 46v1h1v-1zM9 54v1h1v-1zM10 2v1h1v-1zM10 6v1h1v-1zM10 9v1h1v-1zM10 15v1h1v-1zM10 20v1h1v-1zM10 32v3h1v-3zM10 44v1h1v-1zM10 46v1h1v-1zM10 91v1h1v-1zM11 1v3h1v-3zM11 12v1h1v-1zM11 15v1h1v-1zM11 24v1h1v-1zM11 31v1h1v-1zM11 34v4h1v-4zM11 39v2h1v-2zM11 53v1h1v-1zM11 67v1h1v-1zM12 0v1h1v-1zM12 7v1h1v-1zM12 13v4h1v-4zM12 22v1h1v-1zM12 25v1h1v-1zM12 29v1h1v-1zM12 35v1h1v-1zM12 40v1h1v-1zM12 46v1h1v-1zM12 56v1h1v-1zM12 87v1h1v-1zM12 89v1h1v-1zM12 105v1h1v-1zM13 0v1h1v-1zM13 14v1h1v-1zM13 17v2h1v-2zM13 20v1h1v-1zM13 27v2h1v-2zM13 34v1h1v-1zM13 36v1h1v-1zM13 40v1h1v-1zM13 43v2h1v-2zM13 78v1h1v-1zM14 2v3h1v-3zM14 6v1h1v-1zM14 9v1h1v-1zM14 23v1h1v-1zM14 25v2h1v-2zM14 34v1h1v-1zM14 44v1h1v-1zM14 56v1h1v-1zM14 102v1h1v-1zM15 3v1h1v-1zM15 9v1h1v-1zM15 12v1h1v-1zM15 17v3h1v-3zM15 30v1h1v-1zM15 32v1h1v-1zM15 39v1h1v-1zM15 41v1h1v-1zM15 47v1h1v-1zM15 61v1h1v-1zM16 0v1h1v-1zM16 2v1h1v-1zM16 5v1h1v-1zM16 8v1h1v-1zM16 13v1h1v-1zM16 16v2h1v-2zM16 20v1h1v-1zM16 25v3h1v-3zM16 31v4h1v-4zM16 38v1h1v-1zM16 41v1h1v-1zM16 51v1h1v-1zM16 83v1h1v-1zM16 86v1h1v-1zM16 106v1h1v-1zM17 2v2h1v-2zM17 5v1h1v-1zM17 14v2h1v-2zM17 17v2h1v-2zM17 22v1h1v-1zM17 28v1h1v-1zM17 31v1h1v-1zM17 34v1h1v-1zM17 37v1h1v-1zM17 42v2h1v-2zM17 92v1h1v-1zM18 9v1h1v-1zM18 11v1h1v-1zM18 13v1h1v-1zM18 15v2h1v-2zM18 23v1h1v-1zM18 28v1h1v-1zM18 37v1h1v-1zM18 40v1h1v-1zM18 43v1h1v-1zM18 70v1h1v-1zM18 75v1h1v-1zM18 104v1h1v-1zM19 1v2h1v-2zM19 14v1h1v-1zM19 21v1h1v-1zM19 31v1h1v-1zM19 34v1h1v-1zM19 36v1h1v-1zM19 38v1h1v-1zM19 86v2h1v-2zM20 0v1h1v-1zM20 2v1h1v-1zM20 9v1h1v-1zM20 11v1h1v-1zM20 16v2h1v-2zM20 23v1h1v-1zM20 27v3h1v-3zM20 41v1h1v-1zM20 46v2h1v-2zM20 54v1h1v-1zM20 70v1h1v-1zM20 95v1h1v-1zM20 97v1h1v-1zM20 100v2h1v-2zM21 6v2h1v-2zM21 23v2h1v-2zM21 35v1h1v-1zM21 42v1h1v-1zM21 50v1h1v-1zM21 63v1h1v-1zM21 72v1h1v-1zM21 82v1h1v-1zM21 93v1h1v-1zM21 95v1h1v-1zM21 99v1h1v-1zM21 109v1h1v-1zM22 1v1h1v-1zM22 13v3h1v-3zM22 53v1h1v-1zM22 62v1h1v-1zM22 72v1h1v-1zM22 74v2h1v-2zM22 90v1h1v-1zM22 93v1h1v-1zM22 96v1h1v-1zM22 101v1h1v-1zM23 0v1h1v-1zM23 15v1h1v-1zM23 35v1h1v-1zM23 40v1h1v-1zM23 54v1h1v-1zM23 59v1h1v-1zM23 75v1h1v-1zM23 91v1h1v-1zM24 7v1h1v-1zM24 41v1h1v-1zM24 47v1h1v-1zM24 49v1h1v-1zM24 58v1h1v-1zM24 61v3h1v-3zM24 67v1h1v-1zM24 69v1h1v-1zM24 71v1h1v-1zM24 79v1h1v-1zM24 84v1h1v-1zM24 103v1h1v-1zM25 39v1h1v-1zM25 43v1h1v-1zM25 50v1h1v-1zM25 64v1h1v-1zM25 68v1h1v-1zM25 71v1h1v-1zM25 73v1h1v-1zM25 75v1h1v-1zM25 88v1h1v-1zM25 90v1h1v-1zM25 95v1h1v-1zM25 109v1h1v-1zM26 21v1h1v-1zM26 56v2h1v-2zM26 61v1h1v-1zM26 64v2h1v-2zM26 75v2h1v-2zM26 99v1h1v-1zM26 109v1h1v-1zM27 38v1h1v-1zM27 40v2h1v-2zM27 46v1h1v-1zM27 53v1h1v-1zM27 61v1h1v-1zM27 64v1h1v-1zM27 66v1h1v-1zM27 76v1h1v-1zM27 87v1h1v-1zM27 102v1h1v-1zM28 36v1h1v-1zM28 54v1h1v-1zM28 61v1h1v-1zM28 64v1h1v-1zM28 67v1h1v-1zM28 73v2h1v-2zM28 83v1h1v-1zM28 103v3h1v-3zM28 107v1h1v-1zM29 38v1h1v-1zM29 59v2h1v-2zM29 62v1h1v-1zM29 64v2h1v-2zM29 67v2h1v-2zM29 71v1h1v-1zM29 75v1h1v-1zM29 83v1h1v-1zM29 97v1h1v-1zM29 102v1h1v-1zM29 108v1h1v-1zM30 39v1h1v-1zM30 44v1h1v-1zM30 63v1h1v-1zM30 75v2h1v-2zM30 80v1h1v-1zM30 82v2h1v-2zM30 85v1h1v-1zM30 92v2h1v-2zM31 4v1h1v-1zM31 43v1h1v-1zM31 48v1h1v-1zM31 55v1h1v-1zM31 58v1h1v-1zM31 61v1h1v-1zM31 65v2h1v-2zM31 69v3h1v-3zM31 73v1h1v-1zM31 82v2h1v-2zM31 90v1h1v-1zM31 95v1h1v-1zM31 101v1h1v-1zM32 31v1h1v-1zM32 38v1h1v-1zM32 48v3h1v-3zM32 62v3h1v-3zM32 66v1h1v-1zM32 68v3h1v-3zM32 86v1h1v-1zM32 90v1h1v-1zM32 92v1h1v-1zM32 98v1h1v-1zM33 19v1h1v-1zM33 28v1h1v-1zM33 31v1h1v-1zM33 38v1h1v-1zM33 55v1h1v-1zM33 57v1h1v-1zM33 61v1h1v-1zM33 75v2h1v-2zM33 98v3h1v-3zM33 106v1h1v-1zM34 14v1h1v-1zM34 16v1h1v-1zM34 25v1h1v-1zM34 29v2h1v-2zM34 46v1h1v-1zM34 48v1h1v-1zM34 59v1h1v-1zM34 65v1h1v-1zM34 67v2h1v-2zM34 71v1h1v-1zM34 75v4h1v-4zM34 80v2h1v-2zM34 83v3h1v-3zM34 88v1h1v-1zM34 106v2h1v-2zM35 7v1h1v-1zM35 30v1h1v-1zM35 46v3h1v-3zM35 53v1h1v-1zM35 65v1h1v-1zM35 84v2h1v-2zM35 92v2h1v-2zM35 96v1h1v-1zM35 102v1h1v-1zM35 104v1h1v-1zM35 109v1h1v-1zM36 29v1h1v-1zM36 31v1h1v-1zM36 49v1h1v-1zM36 52v1h1v-1zM36 54v1h1v-1zM36 61v1h1v-1zM36 66v1h1v-1zM36 69v1h1v-1zM36 74v3h1v-3zM36 82v1h1v-1zM36 85v1h1v-1zM36 89v3h1v-3zM36 99v2h1v-2zM37 0v1h1v-1zM37 5v1h1v-1zM37 7v1h1v-1zM37 36v2h1v-2zM37 40v1h1v-1zM37 44v1h1v-1zM37 47v1h1v-1zM37 50v1h1v-1zM37 55v1h1v-1zM37 57v2h1v-2zM37 63v2h1v-2zM37 90v2h1v-2zM37 93v2h1v-2zM37 96v1h1v-1zM37 106v1h1v-1zM38 2v1h1v-1zM38 22v1h1v-1zM38 29v1h1v-1zM38 37v2h1v-2zM38 52v1h1v-1zM38 61v1h1v-1zM38 64v1h1v-1zM38 70v1h1v-1zM38 74v2h1v-2zM38 78v1h1v-1zM38 93v1h1v-1zM38 103v1h1v-1zM38 106v1h1v-1zM39 0v1h1v-1zM39 14v1h1v-1zM39 52v1h1v-1zM39 55v1h1v-1zM39 81v2h1v-2zM39 90v1h1v-1zM39 93v2h1v-2zM39 99v1h1v-1zM39 102v2h1v-2zM39 106v1h1v-1zM40 9v1h1v-1zM40 15v1h1v-1zM40 25v1h1v-1zM40 40v1h1v-1zM40 57v1h1v-1zM40 60v1h1v-1zM40 66v1h1v-1zM40 68v1h1v-1zM40 86v1h1v-1zM40 105v2h1v-2zM41 9v1h1v-1zM41 16v1h1v-1zM41 21v1h1v-1zM41 23v2h1v-2zM41 26v1h1v-1zM41 34v1h1v-1zM41 47v1h1v-1zM41 57v1h1v-1zM41 59v1h1v-1zM41 63v1h1v-1zM41 65v3h1v-3zM41 73v2h1v-2zM41 78v1h1v-1zM41 81v1h1v-1zM41 91v2h1v-2zM41 106v1h1v-1zM41 109v1h1v-1zM42 57v1h1v-1zM42 67v1h1v-1zM42 70v1h1v-1zM42 74v1h1v-1zM42 76v1h1v-1zM42 93v1h1v-1zM42 101v4h1v-4zM42 106v1h1v-1zM43 19v1h1v-1zM43 29v1h1v-1zM43 31v1h1v-1zM43 34v2h1v-2zM43 46v1h1v-1zM43 59v1h1v-1zM43 69v1h1v-1zM43 82v3h1v-3zM43 92v1h1v-1zM43 102v1h1v-1zM43 105v2h1v-2zM43 109v1h1v-1zM44 11v1h1v-1zM44 17v2h1v-2zM44 22v1h1v-1zM44 27v4h1v-4zM44 37v1h1v-1zM44 54v1h1v-1zM44 58v1h1v-1zM44 62v2h1v-2zM44 67v1h1v-1zM44 69v1h1v-1zM44 74v1h1v-1zM44 83v1h1v-1zM44 89v2h1v-2zM44 93v1h1v-1zM44 98v1h1v-1zM44 109v1h1v-1z" fill="#f29c96"/><path d="M0 3v1h1v-1zM0 11v1h1v-1zM0 18v2h1v-2zM0 22v3h1v-3zM0 37v2h1v-2zM1 9v3h1v-3zM1 15v1h1v-1zM1 29v2h1v-2zM1 38v1h1v-1zM1 101v1h1v-1zM1 105v1h1v-1zM2 12v2h1v-2zM2 19v1h1v-1zM2 53v1h1v-1zM3 13v1h1v-1zM3 18v1h1v-1zM3 21v1h1v-1zM3 26v1h1v-1zM3 31v1h1v-1zM3 37v2h1v-2zM3 41v1h1v-1zM4 6v1h1v-1zM4 8v1h1v-1zM4 13v3h1v-3zM4 21v1h1v-1zM4 23v1h1v-1zM4 28v3h1v-3zM4 33v1h1v-1zM4 46v1h1v-1zM5 6v1h1v-1zM5 8v1h1v-1zM5 17v2h1v-2zM5 32v1h1v-1zM6 2v2h1v-2zM6 13v1h1v-1zM6 16v2h1v-2zM6 19v1h1v-1zM6 25v1h1v-1zM6 27v1h1v-1zM6 30v1h1v-1zM6 35v1h1v-1zM6 92v2h1v-2zM7 1v1h1v-1zM7 4v2h1v-2zM7 7v1h1v-1zM7 30v1h1v-1zM7 40v1h1v-1zM7 46v2h1v-2zM8 2v2h1v-2zM8 6v1h1v-1zM8 11v1h1v-1zM8 22v1h1v-1zM8 24v3h1v-3zM8 29v1h1v-1zM8 31v2h1v-2zM9 8v2h1v-2zM9 16v1h1v-1zM9 19v2h1v-2zM9 25v1h1v-1zM9 27v1h1v-1zM9 31v4h1v-4zM9 42v1h1v-1zM9 60v1h1v-1zM10 7v1h1v-1zM10 14v1h1v-1zM10 17v2h1v-2zM10 22v2h1v-2zM10 25v1h1v-1zM10 90v1h1v-1zM11 4v1h1v-1zM11 7v1h1v-1zM11 13v1h1v-1zM11 19v3h1v-3zM11 27v2h1v-2zM11 33v1h1v-1zM11 38v1h1v-1zM12 23v1h1v-1zM12 34v1h1v-1zM12 38v1h1v-1zM12 45v1h1v-1zM13 6v3h1v-3zM13 10v1h1v-1zM13 19v1h1v-1zM13 21v2h1v-2zM13 24v1h1v-1zM13 30v2h1v-2zM13 37v1h1v-1zM14 15v1h1v-1zM14 19v1h1v-1zM14 21v1h1v-1zM14 24v1h1v-1zM14 37v1h1v-1zM15 4v3h1v-3zM15 14v1h1v-1zM15 20v1h1v-1zM15 29v1h1v-1zM15 38v1h1v-1zM15 56v1h1v-1zM16 1v1h1v-1zM16 6v1h1v-1zM16 21v1h1v-1zM16 23v1h1v-1zM16 53v1h1v-1zM16 84v1h1v-1zM16 95v1h1v-1zM17 4v1h1v-1zM17 10v1h1v-1zM17 36v1h1v-1zM17 93v1h1v-1zM18 2v1h1v-1zM18 12v1h1v-1zM18 21v1h1v-1zM18 27v1h1v-1zM18 31v1h1v-1zM18 39v1h1v-1zM18 61v2h1v-2zM19 6v1h1v-1zM19 23v1h1v-1zM19 28v1h1v-1zM20 3v1h1v-1zM20 7v2h1v-2zM20 38v1h1v-1zM20 40v1h1v-1zM20 50v1h1v-1zM21 9v1h1v-1zM21 36v1h1v-1zM21 83v1h1v-1zM22 16v1h1v-1zM22 38v1h1v-1zM22 58v1h1v-1zM22 65v1h1v-1zM22 86v1h1v-1zM23 38v1h1v-1zM23 61v1h1v-1zM23 67v2h1v-2zM23 70v1h1v-1zM23 74v1h1v-1zM23 93v1h1v-1zM23 105v1h1v-1zM24 48v1h1v-1zM24 68v1h1v-1zM24 70v1h1v-1zM24 72v1h1v-1zM24 74v1h1v-1zM24 83v1h1v-1zM25 69v2h1v-2zM25 72v1h1v-1zM25 91v1h1v-1zM25 96v1h1v-1zM26 63v1h1v-1zM26 66v1h1v-1zM26 68v1h1v-1zM26 73v1h1v-1zM27 54v1h1v-1zM27 60v1h1v-1zM27 67v1h1v-1zM27 103v1h1v-1zM28 63v1h1v-1zM28 68v2h1v-2zM28 71v1h1v-1zM28 75v1h1v-1zM28 82v1h1v-1zM29 72v3h1v-3zM29 109v1h1v-1zM30 61v2h1v-2zM30 64v1h1v-1zM30 69v1h1v-1zM30 73v2h1v-2zM30 77v3h1v-3zM30 81v1h1v-1zM30 84v1h1v-1zM30 90v1h1v-1zM30 105v1h1v-1zM31 64v1h1v-1zM31 68v1h1v-1zM31 93v1h1v-1zM31 104v2h1v-2zM32 4v1h1v-1zM32 51v1h1v-1zM32 58v1h1v-1zM32 65v1h1v-1zM32 87v1h1v-1zM32 89v1h1v-1zM33 47v1h1v-1zM33 58v1h1v-1zM33 67v1h1v-1zM33 69v1h1v-1zM33 95v1h1v-1zM34 31v1h1v-1zM34 61v1h1v-1zM34 64v1h1v-1zM34 93v1h1v-1zM35 31v1h1v-1zM35 68v2h1v-2zM35 78v1h1v-1zM35 88v4h1v-4zM36 21v1h1v-1zM36 46v1h1v-1zM36 53v1h1v-1zM36 58v1h1v-1zM37 38v1h1v-1zM37 67v1h1v-1zM37 92v1h1v-1zM37 95v1h1v-1zM37 109v1h1v-1zM38 30v2h1v-2zM38 46v2h1v-2zM38 51v1h1v-1zM38 67v2h1v-2zM38 89v1h1v-1zM39 83v1h1v-1zM39 107v1h1v-1zM40 53v1h1v-1zM40 56v1h1v-1zM40 61v4h1v-4zM40 87v1h1v-1zM40 101v1h1v-1zM41 48v1h1v-1zM41 56v1h1v-1zM41 64v1h1v-1zM41 77v1h1v-1zM41 80v1h1v-1zM42 72v2h1v-2zM42 77v1h1v-1zM42 82v1h1v-1zM42 107v2h1v-2zM43 30v1h1v-1zM43 58v1h1v-1zM43 61v1h1v-1zM43 70v2h1v-2zM43 73v2h1v-2zM43 81v1h1v-1zM43 90v2h1v-2zM43 93v1h1v-1zM43 97v1h1v-1zM44 68v1h1v-1zM44 88v1h1v-1z" fill="#ea6258"/><path d="M0 0v1h1v-1zM0 6v1h1v-1zM0 25v1h1v-1zM0 28v2h1v-2zM1 4v1h1v-1zM1 12v1h1v-1zM1 28v1h1v-1zM1 31v2h1v-2zM1 37v1h1v-1zM2 40v1h1v-1zM2 106v1h1v-1zM3 8v2h1v-2zM3 14v2h1v-2zM3 19v1h1v-1zM3 24v1h1v-1zM3 27v2h1v-2zM4 7v1h1v-1zM4 12v1h1v-1zM4 16v1h1v-1zM4 22v1h1v-1zM4 34v1h1v-1zM5 7v1h1v-1zM5 11v2h1v-2zM5 16v1h1v-1zM5 21v1h1v-1zM5 31v1h1v-1zM6 10v3h1v-3zM6 18v1h1v-1zM6 22v3h1v-3zM6 26v1h1v-1zM6 28v2h1v-2zM6 36v1h1v-1zM7 9v4h1v-4zM7 14v6h1v-6zM7 21v6h1v-6zM7 29v1h1v-1zM7 31v1h1v-1zM8 4v2h1v-2zM8 10v1h1v-1zM8 13v9h1v-9zM8 27v2h1v-2zM9 12v4h1v-4zM9 18v1h1v-1zM9 21v4h1v-4zM9 26v1h1v-1zM9 28v2h1v-2zM10 8v1h1v-1zM10 11v3h1v-3zM10 16v1h1v-1zM10 19v1h1v-1zM10 21v1h1v-1zM10 24v1h1v-1zM10 26v6h1v-6zM11 14v1h1v-1zM11 16v3h1v-3zM11 22v2h1v-2zM12 11v2h1v-2zM12 17v2h1v-2zM12 21v1h1v-1zM12 24v1h1v-1zM12 26v3h1v-3zM12 30v2h1v-2zM12 57v1h1v-1zM13 9v1h1v-1zM13 23v1h1v-1zM14 16v1h1v-1zM14 18v1h1v-1zM14 22v1h1v-1zM14 35v2h1v-2zM14 38v1h1v-1zM15 21v1h1v-1zM15 31v1h1v-1zM16 22v1h1v-1zM16 52v1h1v-1zM17 0v1h1v-1zM17 35v1h1v-1zM18 38v1h1v-1zM19 22v1h1v-1zM19 33v1h1v-1zM20 4v1h1v-1zM20 22v1h1v-1zM21 4v1h1v-1zM21 51v1h1v-1zM22 12v1h1v-1zM22 70v1h1v-1zM23 58v1h1v-1zM23 104v1h1v-1zM24 40v1h1v-1zM24 73v1h1v-1zM25 38v1h1v-1zM26 67v1h1v-1zM26 74v1h1v-1zM27 77v1h1v-1zM28 70v1h1v-1zM29 61v1h1v-1zM29 63v1h1v-1zM29 66v1h1v-1zM29 69v2h1v-2zM30 70v2h1v-2zM31 62v2h1v-2zM31 67v1h1v-1zM31 72v1h1v-1zM31 94v1h1v-1zM31 107v3h1v-3zM32 67v1h1v-1zM32 102v1h1v-1zM33 68v1h1v-1zM33 105v1h1v-1zM34 58v1h1v-1zM34 102v1h1v-1zM35 67v1h1v-1zM37 16v1h1v-1zM38 48v1h1v-1zM38 91v1h1v-1zM40 67v1h1v-1zM41 70v1h1v-1zM41 82v1h1v-1zM43 72v1h1v-1zM43 96v1h1v-1zM44 82v1h1v-1z" fill="#e12e22"/></g>
<line x1="1356.3" y1="739" x2="1356.3" y2="885.8" stroke="#aaa" stroke-width="0.8"/>
<rect x="1357" y="898" width="174.4" height="43.5" fill="#3879bc"/>
<rect x="1531.3" y="898" width="190.1" height="43.5" fill="#dc281c"/>
<line x1="1366.5" y1="949.5" x2="1366.5" y2="1207.5" stroke="#060504" stroke-width="6.6"/>
<line x1="1356.3" y1="952.8" x2="1366.5" y2="952.8" stroke="#060504" stroke-width="6.6"/>
<line x1="1356.3" y1="1015.6" x2="1366.5" y2="1015.6" stroke="#060504" stroke-width="6.6"/>
<line x1="1356.3" y1="1078.2" x2="1366.5" y2="1078.2" stroke="#060504" stroke-width="6.6"/>
<line x1="1356.3" y1="1141.2" x2="1366.5" y2="1141.2" stroke="#060504" stroke-width="6.6"/>
<line x1="1356.3" y1="1204.2" x2="1722.6" y2="1204.2" stroke="#060504" stroke-width="7"/>
<line x1="1456" y1="1204.2" x2="1456" y2="1214.8" stroke="#060504" stroke-width="6.6"/>
<line x1="1635.3" y1="1204.2" x2="1635.3" y2="1214.8" stroke="#060504" stroke-width="6.6"/>
<circle cx="1456" cy="1112.7" r="7.2" fill="#484eae"/>
<path d="M1456 1082.5V1142.4M1448.7 1082.5H1463.3M1448.7 1142.4H1463.3" fill="none" stroke="#060504" stroke-width="3.1" stroke-linecap="round"/>
<circle cx="1635.3" cy="1016.6" r="7.2" fill="#dc3018"/>
<path d="M1635.3 975.7V1057.9M1628 975.7H1642.6M1628 1057.9H1642.6" fill="none" stroke="#060504" stroke-width="3.1" stroke-linecap="round"/>
</g>
<g id="pE">
<line x1="396.5" y1="1345" x2="396.5" y2="1756.2" stroke="#060504" stroke-width="11.3"/>
<line x1="378.6" y1="1350.6" x2="396.5" y2="1350.6" stroke="#060504" stroke-width="11.3"/>
<line x1="378.6" y1="1452" x2="396.5" y2="1452" stroke="#060504" stroke-width="11.3"/>
<line x1="378.6" y1="1553.4" x2="396.5" y2="1553.4" stroke="#060504" stroke-width="11.3"/>
<line x1="378.6" y1="1654.6" x2="396.5" y2="1654.6" stroke="#060504" stroke-width="11.3"/>
<line x1="94.2" y1="1756.7" x2="698.9" y2="1756.7" stroke="#060504" stroke-width="12.6"/>
<line x1="100" y1="1756.2" x2="100" y2="1775.7" stroke="#060504" stroke-width="10.9"/>
<line x1="198.6" y1="1756.2" x2="198.6" y2="1775.7" stroke="#060504" stroke-width="10.9"/>
<line x1="297.6" y1="1756.2" x2="297.6" y2="1775.7" stroke="#060504" stroke-width="10.9"/>
<line x1="396.5" y1="1756.2" x2="396.5" y2="1775.7" stroke="#060504" stroke-width="10.9"/>
<line x1="495.7" y1="1756.2" x2="495.7" y2="1775.7" stroke="#060504" stroke-width="10.9"/>
<line x1="594.4" y1="1756.2" x2="594.4" y2="1775.7" stroke="#060504" stroke-width="10.9"/>
<line x1="693.4" y1="1756.2" x2="693.4" y2="1775.7" stroke="#060504" stroke-width="10.9"/>
<line x1="198.5" y1="1625.3" x2="576.2" y2="1625.3" stroke="#e03214" stroke-width="10.6" stroke-linecap="round" stroke-dasharray="0.1 19.77"/>
<circle cx="206.3" cy="1452.3" r="8.3" fill="#e03214"/>
<circle cx="210.9" cy="1483.1" r="8.3" fill="#e03214"/>
<circle cx="216.9" cy="1513.1" r="8.3" fill="#e03214"/>
<circle cx="581.3" cy="1452.3" r="8.3" fill="#4a50b0"/>
<circle cx="584.5" cy="1483.1" r="8.3" fill="#4a50b0"/>
<circle cx="571.5" cy="1602.8" r="8.3" fill="#4a50b0"/>
<circle cx="252.8" cy="1624.8" r="8.3" fill="#74c000"/>
<circle cx="259.8" cy="1682.3" r="8.3" fill="#74c000"/>
<circle cx="282.3" cy="1691.3" r="8.3" fill="#74c000"/>
<circle cx="295" cy="1721.3" r="8.3" fill="#74c000"/>
<circle cx="298.1" cy="1724.5" r="8.3" fill="#74c000"/>
<circle cx="527.3" cy="1641.1" r="8.3" fill="#74c000"/>
<circle cx="715.9" cy="1297.5" r="13.2" fill="#dc281c"/>
<circle cx="715.9" cy="1338.9" r="13.2" fill="#3878bc"/>
<circle cx="715.9" cy="1384.7" r="13.2" fill="#3cb418"/>
</g>
<g id="pF">
<line x1="1427.2" y1="1396.3" x2="1427.2" y2="1676.3" stroke="#060504" stroke-width="7.2"/>
<line x1="1413.5" y1="1399.7" x2="1427.2" y2="1399.7" stroke="#060504" stroke-width="7.2"/>
<line x1="1413.5" y1="1452" x2="1427.2" y2="1452" stroke="#060504" stroke-width="7.2"/>
<line x1="1413.5" y1="1505" x2="1427.2" y2="1505" stroke="#060504" stroke-width="7.2"/>
<line x1="1413.5" y1="1558" x2="1427.2" y2="1558" stroke="#060504" stroke-width="7.2"/>
<line x1="1413.5" y1="1611" x2="1427.2" y2="1611" stroke="#060504" stroke-width="7.2"/>
<line x1="1207.2" y1="1664.5" x2="1645.8" y2="1664.5" stroke="#060504" stroke-width="7.2"/>
<line x1="1210.6" y1="1664.5" x2="1210.6" y2="1676.3" stroke="#060504" stroke-width="7.2"/>
<line x1="1319.2" y1="1664.5" x2="1319.2" y2="1676.3" stroke="#060504" stroke-width="7.2"/>
<line x1="1534" y1="1664.5" x2="1534" y2="1676.3" stroke="#060504" stroke-width="7.2"/>
<line x1="1642.4" y1="1664.5" x2="1642.4" y2="1676.3" stroke="#060504" stroke-width="7.2"/>
<ellipse cx="1561.9" cy="1447.6" rx="8.6" ry="7.6" fill="#060504"/>
<ellipse cx="1542.7" cy="1527.7" rx="8.6" ry="7.6" fill="#060504"/>
<ellipse cx="1505.7" cy="1535.8" rx="8.6" ry="7.6" fill="#060504"/>
<ellipse cx="1621.6" cy="1528.4" rx="8.6" ry="7.6" fill="#060504"/>
<ellipse cx="1514.6" cy="1562.5" rx="8.6" ry="7.6" fill="#060504"/>
<ellipse cx="1568.1" cy="1561.7" rx="8.6" ry="7.6" fill="#060504"/>
<ellipse cx="1608.2" cy="1556.3" rx="8.6" ry="7.6" fill="#060504"/>
<ellipse cx="1415.3" cy="1559.2" rx="8.6" ry="7.6" fill="#060504"/>
<ellipse cx="1401.7" cy="1566.6" rx="8.6" ry="7.6" fill="#060504"/>
<ellipse cx="1336.9" cy="1568.4" rx="8.6" ry="7.6" fill="#060504"/>
<ellipse cx="1360.6" cy="1581.9" rx="8.6" ry="7.6" fill="#060504"/>
<ellipse cx="1372.1" cy="1588.1" rx="8.6" ry="7.6" fill="#060504"/>
<ellipse cx="1377.1" cy="1593.3" rx="8.6" ry="7.6" fill="#060504"/>
<ellipse cx="1341.8" cy="1595.7" rx="8.6" ry="7.6" fill="#060504"/>
<ellipse cx="1348.7" cy="1602.9" rx="8.6" ry="7.6" fill="#060504"/>
<ellipse cx="1357.4" cy="1607.3" rx="8.6" ry="7.6" fill="#060504"/>
<ellipse cx="1376.3" cy="1603.6" rx="8.6" ry="7.6" fill="#060504"/>
<ellipse cx="1417" cy="1585.6" rx="8.6" ry="7.6" fill="#060504"/>
<ellipse cx="1414" cy="1602.9" rx="8.6" ry="7.6" fill="#060504"/>
<ellipse cx="1448.5" cy="1586.9" rx="8.6" ry="7.6" fill="#060504"/>
<ellipse cx="1465.3" cy="1598.7" rx="8.6" ry="7.6" fill="#060504"/>
<ellipse cx="1458.4" cy="1603.6" rx="8.6" ry="7.6" fill="#060504"/>
<ellipse cx="1444.4" cy="1606.6" rx="8.6" ry="7.6" fill="#060504"/>
<ellipse cx="1462.1" cy="1608.5" rx="8.6" ry="7.6" fill="#060504"/>
<ellipse cx="1452.2" cy="1612.2" rx="8.6" ry="7.6" fill="#060504"/>
<ellipse cx="1487.5" cy="1607.3" rx="8.6" ry="7.6" fill="#060504"/>
<ellipse cx="1278.5" cy="1604.4" rx="8.6" ry="7.6" fill="#060504"/>
<ellipse cx="1285.1" cy="1619.1" rx="8.6" ry="7.6" fill="#060504"/>
<ellipse cx="1294.5" cy="1629.5" rx="8.6" ry="7.6" fill="#060504"/>
<ellipse cx="1325.3" cy="1636.1" rx="8.6" ry="7.6" fill="#060504"/>
<ellipse cx="1368.4" cy="1626.5" rx="8.6" ry="7.6" fill="#060504"/>
<ellipse cx="1379.5" cy="1624.1" rx="8.6" ry="7.6" fill="#060504"/>
<ellipse cx="1380.8" cy="1637.4" rx="8.6" ry="7.6" fill="#060504"/>
<ellipse cx="1419.7" cy="1624.6" rx="8.6" ry="7.6" fill="#060504"/>
<ellipse cx="1432.5" cy="1631.2" rx="8.6" ry="7.6" fill="#060504"/>
<ellipse cx="1454.7" cy="1623.3" rx="8.6" ry="7.6" fill="#060504"/>
<ellipse cx="1466.5" cy="1625.8" rx="8.6" ry="7.6" fill="#060504"/>
<line x1="1277.3" y1="1631.5" x2="1623.5" y2="1540" stroke="#060504" stroke-width="3.4" stroke-linecap="round"/>
</g>
<g id="pG">
<line x1="235.8" y1="2029.6" x2="235.8" y2="2250.4" stroke="#060504" stroke-width="6.2"/>
<line x1="225.2" y1="2032.6" x2="235.8" y2="2032.6" stroke="#060504" stroke-width="6.2"/>
<line x1="225.2" y1="2086.8" x2="235.8" y2="2086.8" stroke="#060504" stroke-width="6.2"/>
<line x1="225.2" y1="2139.9" x2="235.8" y2="2139.9" stroke="#060504" stroke-width="6.2"/>
<line x1="224.6" y1="2247.7" x2="238.9" y2="2247.7" stroke="#060504" stroke-width="5.5"/>
<line x1="225.2" y1="2194.3" x2="590" y2="2194.3" stroke="#060504" stroke-width="6.3"/>
<line x1="323.8" y1="2194.3" x2="323.8" y2="2204.1" stroke="#060504" stroke-width="6.5"/>
<line x1="411.5" y1="2194.3" x2="411.5" y2="2204.1" stroke="#060504" stroke-width="6.5"/>
<line x1="499.2" y1="2194.3" x2="499.2" y2="2204.1" stroke="#060504" stroke-width="6.5"/>
<line x1="586.8" y1="2194.3" x2="586.8" y2="2204.1" stroke="#060504" stroke-width="6.5"/>
<line x1="234.8" y1="2252.4" x2="234.8" y2="2433.3" stroke="#060504" stroke-width="5.6"/>
<line x1="225.2" y1="2297.8" x2="234.8" y2="2297.8" stroke="#060504" stroke-width="5.8"/>
<line x1="225.2" y1="2341.8" x2="234.8" y2="2341.8" stroke="#060504" stroke-width="5.8"/>
<line x1="225.2" y1="2386.3" x2="234.8" y2="2386.3" stroke="#060504" stroke-width="5.8"/>
<line x1="225.2" y1="2430.4" x2="234.8" y2="2430.4" stroke="#060504" stroke-width="5.8"/>
<line x1="224.4" y1="2254.4" x2="590" y2="2254.4" stroke="#060504" stroke-width="4.4"/>
<line x1="322.9" y1="2254.4" x2="322.9" y2="2263.2" stroke="#060504" stroke-width="5.8"/>
<line x1="410.8" y1="2254.4" x2="410.8" y2="2263.2" stroke="#060504" stroke-width="5.8"/>
<line x1="498.6" y1="2254.4" x2="498.6" y2="2263.2" stroke="#060504" stroke-width="5.8"/>
<line x1="586.6" y1="2254.4" x2="586.6" y2="2263.2" stroke="#060504" stroke-width="5.8"/>
<path d="M235.8 2193.5C236.03 2189.25 236.53 2176.92 237.2 2168C237.87 2159.08 239.07 2147.67 239.8 2140C240.53 2132.33 240.93 2127.5 241.6 2122C242.27 2116.5 242.7 2112.83 243.8 2107C244.9 2101.17 246.82 2092.52 248.2 2087C249.58 2081.48 250.8 2077.4 252.1 2073.9C253.4 2070.4 254.6 2068.32 256 2066C257.4 2063.68 258.83 2061.92 260.5 2060C262.17 2058.08 263.9 2056.28 266 2054.5C268.1 2052.72 270.77 2050.75 273.1 2049.3C275.43 2047.85 277.52 2046.82 280 2045.8C282.48 2044.78 285.37 2043.8 288 2043.2C290.63 2042.6 293.22 2042.25 295.8 2042.2C298.38 2042.15 300.88 2042.47 303.5 2042.9C306.12 2043.33 307.2 2043.17 311.5 2044.8C315.8 2046.43 323.05 2049.42 329.3 2052.7C335.55 2055.98 342.43 2060.23 349 2064.5C355.57 2068.77 362.13 2073.37 368.7 2078.3C375.27 2083.23 381.82 2088.83 388.4 2094.1C394.98 2099.37 401.62 2104.82 408.2 2109.9C414.78 2114.98 421.33 2119.68 427.9 2124.6C434.47 2129.52 441.03 2134.3 447.6 2139.4C454.17 2144.5 460.73 2150.27 467.3 2155.2C473.87 2160.13 480.43 2164.63 487 2169C493.57 2173.37 500.13 2177.3 506.7 2181.4C513.27 2185.5 521.13 2190.57 526.4 2193.6C531.67 2196.63 535 2198.35 538.3 2199.6C541.6 2200.85 543.73 2201.13 546.2 2201.1C548.67 2201.07 551.3 2200.48 553.1 2199.4C554.9 2198.32 556.35 2195.4 557 2194.6" fill="none" stroke="#4a50b0" stroke-width="9.4" stroke-linecap="round" stroke-linejoin="round"/>
<clipPath id="cG"><rect x="220" y="2252.3" width="400" height="200"/></clipPath><path d="M234.8 2255C237.33 2255.1 245.47 2255.23 250 2255.6C254.53 2255.97 257.75 2256.58 262 2257.2C266.25 2257.82 271.33 2258.25 275.5 2259.3C279.67 2260.35 283.15 2261.88 287 2263.5C290.85 2265.12 293.2 2265.83 298.6 2269C304 2272.17 312.65 2277.92 319.4 2282.5C326.15 2287.08 332.52 2291.82 339.1 2296.5C345.68 2301.18 352.32 2305.92 358.9 2310.6C365.48 2315.28 372.03 2319.95 378.6 2324.6C385.17 2329.25 391.73 2333.88 398.3 2338.5C404.87 2343.12 411.43 2347.85 418 2352.3C424.57 2356.75 431.13 2361.22 437.7 2365.2C444.27 2369.18 450.82 2372.88 457.4 2376.2C463.98 2379.52 471.28 2382.73 477.2 2385.1C483.12 2387.47 487.98 2389.1 492.9 2390.4C497.82 2391.7 502.42 2392.57 506.7 2392.9C510.98 2393.23 514.65 2393.38 518.6 2392.4C522.55 2391.42 526.78 2389.7 530.4 2387C534.02 2384.3 537.5 2380.63 540.3 2376.2C543.1 2371.77 545.23 2366.65 547.2 2360.4C549.17 2354.15 550.8 2347.25 552.1 2338.7C553.4 2330.15 554.25 2318.95 555 2309.1C555.75 2299.25 556.17 2289.45 556.6 2279.6C557.03 2269.75 557.43 2254.93 557.6 2250" fill="none" stroke="#e03214" stroke-width="9.6" stroke-linecap="round" stroke-linejoin="round" clip-path="url(#cG)"/>
</g>
<g id="pH">
<rect x="1009.3" y="1879.1" width="747" height="136.8" fill="none" stroke="#3c3c3c" stroke-width="1.5"/>
<path d="M1002 1897.5H1009.3M1002 1920.2H1009.3M1002 1943.3H1009.3M1002 1966H1009.3M1002 1989.4H1009.3M1002 2012.4H1009.3M1095.6 2016V2019M1215.8 2016V2019M1335.9 2016V2019M1456.2 2016V2019M1575.5 2016V2019M1695.6 2016V2019" fill="none" stroke="#3c3c3c" stroke-width="1.3"/>
<path d="M1037.2 1884.61V1960.01M1030.2 1884.61H1044.2M1030.2 1960.01H1044.2M1048.36 1885.33V1960.32M1041.36 1885.33H1055.36M1041.36 1960.32H1055.36M1059.53 1886.04V1960.64M1052.53 1886.04H1066.53M1052.53 1960.64H1066.53M1070.69 1886.76V1960.96M1063.69 1886.76H1077.69M1063.69 1960.96H1077.69M1081.86 1887.47V1961.28M1074.86 1887.47H1088.86M1074.86 1961.28H1088.86M1093.02 1888.19V1961.59M1086.02 1888.19H1100.02M1086.02 1961.59H1100.02M1104.19 1889.08V1962.08M1097.19 1889.08H1111.19M1097.19 1962.08H1111.19M1115.35 1889.98V1962.57M1108.35 1889.98H1122.35M1108.35 1962.57H1122.35M1126.52 1890.88V1963.06M1119.52 1890.88H1133.52M1119.52 1963.06H1133.52M1137.68 1891.78V1963.55M1130.68 1891.78H1144.68M1130.68 1963.55H1144.68M1148.85 1892.73V1964.06M1141.85 1892.73H1155.85M1141.85 1964.06H1155.85M1160.01 1894.21V1964.82M1153.01 1894.21H1167.01M1153.01 1964.82H1167.01M1171.17 1895.7V1965.58M1164.17 1895.7H1178.17M1164.17 1965.58H1178.17M1182.34 1897.19V1966.33M1175.34 1897.19H1189.34M1175.34 1966.33H1189.34M1193.5 1898.7V1967.09M1186.5 1898.7H1200.5M1186.5 1967.09H1200.5M1204.67 1900.41V1967.84M1197.67 1900.41H1211.67M1197.67 1967.84H1211.67M1215.83 1902.12V1968.6M1208.83 1902.12H1222.83M1208.83 1968.6H1222.83M1227 1903.83V1969.35M1220 1903.83H1234M1220 1969.35H1234M1238.16 1905.58V1970.14M1231.16 1905.58H1245.16M1231.16 1970.14H1245.16M1249.33 1907.56V1971.12M1242.33 1907.56H1256.33M1242.33 1971.12H1256.33M1260.49 1909.54V1972.1M1253.49 1909.54H1267.49M1253.49 1972.1H1267.49M1271.65 1911.52V1973.08M1264.65 1911.52H1278.65M1264.65 1973.08H1278.65M1282.82 1913.5V1974.07M1275.82 1913.5H1289.82M1275.82 1974.07H1289.82M1293.98 1915.48V1975.05M1286.98 1915.48H1300.98M1286.98 1975.05H1300.98M1305.15 1917.46V1976.03M1298.15 1917.46H1312.15M1298.15 1976.03H1312.15M1316.31 1919.43V1976.94M1309.31 1919.43H1323.31M1309.31 1976.94H1323.31M1327.48 1921.39V1977.86M1320.48 1921.39H1334.48M1320.48 1977.86H1334.48M1338.64 1923.36V1978.77M1331.64 1923.36H1345.64M1331.64 1978.77H1345.64M1349.81 1925.33V1979.68M1342.81 1925.33H1356.81M1342.81 1979.68H1356.81M1360.97 1927.29V1980.6M1353.97 1927.29H1367.97M1353.97 1980.6H1367.97M1372.14 1929.26V1981.51M1365.14 1929.26H1379.14M1365.14 1981.51H1379.14M1383.3 1931.23V1982.42M1376.3 1931.23H1390.3M1376.3 1982.42H1390.3M1394.46 1933.19V1983.34M1387.46 1933.19H1401.46M1387.46 1983.34H1401.46M1405.63 1935.16V1984.25M1398.63 1935.16H1412.63M1398.63 1984.25H1412.63M1416.79 1937.13V1985.16M1409.79 1937.13H1423.79M1409.79 1985.16H1423.79M1427.96 1939.09V1986.08M1420.96 1939.09H1434.96M1420.96 1986.08H1434.96M1439.12 1941.06V1986.99M1432.12 1941.06H1446.12M1432.12 1986.99H1446.12M1450.29 1943.04V1987.92M1443.29 1943.04H1457.29M1443.29 1987.92H1457.29M1461.45 1945.13V1988.94M1454.45 1945.13H1468.45M1454.45 1988.94H1468.45M1472.62 1947.22V1989.96M1465.62 1947.22H1479.62M1465.62 1989.96H1479.62M1483.78 1949.31V1990.98M1476.78 1949.31H1490.78M1476.78 1990.98H1490.78M1494.95 1951.41V1992M1487.95 1951.41H1501.95M1487.95 1992H1501.95M1506.11 1953.5V1993.02M1499.11 1953.5H1513.11M1499.11 1993.02H1513.11M1517.27 1955.59V1994.06M1510.27 1955.59H1524.27M1510.27 1994.06H1524.27M1528.44 1957.67V1995.52M1521.44 1957.67H1535.44M1521.44 1995.52H1535.44M1539.6 1959.75V1996.97M1532.6 1959.75H1546.6M1532.6 1996.97H1546.6M1550.77 1961.83V1998.42M1543.77 1961.83H1557.77M1543.77 1998.42H1557.77M1561.93 1963.91V1999.88M1554.93 1963.91H1568.93M1554.93 1999.88H1568.93M1573.1 1965.99V2001.33M1566.1 1965.99H1580.1M1566.1 2001.33H1580.1M1584.26 1968.07V2002.78M1577.26 1968.07H1591.26M1577.26 2002.78H1591.26M1595.43 1969.28V2003.68M1588.43 1969.28H1602.43M1588.43 2003.68H1602.43M1606.59 1970.48V2004.58M1599.59 1970.48H1613.59M1599.59 2004.58H1613.59M1617.75 1971.68V2005.47M1610.75 1971.68H1624.75M1610.75 2005.47H1624.75M1628.92 1972.87V2006.36M1621.92 1972.87H1635.92M1621.92 2006.36H1635.92M1640.08 1974.07V2007.26M1633.08 1974.07H1647.08M1633.08 2007.26H1647.08M1651.25 1975.23V2008.12M1644.25 1975.23H1658.25M1644.25 2008.12H1658.25M1662.41 1975.74V2008.52M1655.41 1975.74H1669.41M1655.41 2008.52H1669.41M1673.58 1976.25V2008.92M1666.58 1976.25H1680.58M1666.58 2008.92H1680.58M1684.74 1976.76V2009.31M1677.74 1976.76H1691.74M1677.74 2009.31H1691.74M1695.91 1977.27V2009.71M1688.91 1977.27H1702.91M1688.91 2009.71H1702.91M1707.07 1977.78V2010.11M1700.07 1977.78H1714.07M1700.07 2010.11H1714.07M1718.24 1978.29V2010.5M1711.24 1978.29H1725.24M1711.24 2010.5H1725.24M1729.4 1978.8V2010.9M1722.4 1978.8H1736.4M1722.4 2010.9H1736.4" fill="none" stroke="#a4a2a0" stroke-width="1.15"/>
<path d="M1037.2 1922.21h0M1048.36 1922.75h0M1059.53 1923.28h0M1070.69 1923.82h0M1081.86 1924.36h0M1093.02 1924.89h0M1104.19 1925.54h0M1115.35 1926.2h0M1126.52 1926.85h0M1137.68 1927.5h0M1148.85 1928.2h0M1160.01 1929.44h0M1171.17 1930.67h0M1182.34 1931.91h0M1193.5 1933.14h0M1204.67 1934.38h0M1215.83 1935.61h0M1227 1936.84h0M1238.16 1938.11h0M1249.33 1939.6h0M1260.49 1941.09h0M1271.65 1942.58h0M1282.82 1944.07h0M1293.98 1945.56h0M1305.15 1947.05h0M1316.31 1948.51h0M1327.48 1949.97h0M1338.64 1951.44h0M1349.81 1952.9h0M1360.97 1954.36h0M1372.14 1955.83h0M1383.3 1957.29h0M1394.46 1958.75h0M1405.63 1960.22h0M1416.79 1961.68h0M1427.96 1963.14h0M1439.12 1964.61h0M1450.29 1966.08h0M1461.45 1967.61h0M1472.62 1969.14h0M1483.78 1970.67h0M1494.95 1972.2h0M1506.11 1973.73h0M1517.27 1975.27h0M1528.44 1976.89h0M1539.6 1978.51h0M1550.77 1980.12h0M1561.93 1981.74h0M1573.1 1983.36h0M1584.26 1984.98h0M1595.43 1985.98h0M1606.59 1986.98h0M1617.75 1987.97h0M1628.92 1988.97h0M1640.08 1989.96h0M1651.25 1990.93h0M1662.41 1991.41h0M1673.58 1991.89h0M1684.74 1992.37h0M1695.91 1992.85h0M1707.07 1993.34h0M1718.24 1993.82h0M1729.4 1994.3h0" fill="none" stroke="#e8281c" stroke-width="5.4" stroke-linecap="round"/>
<line x1="1728.9" y1="1879.5" x2="1728.9" y2="2015.5" stroke="#111" stroke-width="1.1" stroke-dasharray="1.2 2.4"/>
<line x1="1198.8" y1="2189" x2="1198.8" y2="2411" stroke="#060504" stroke-width="3.8"/>
<line x1="1189.9" y1="2196.6" x2="1198.8" y2="2196.6" stroke="#060504" stroke-width="3.8"/>
<line x1="1189.9" y1="2211.7" x2="1198.8" y2="2211.7" stroke="#060504" stroke-width="3.8"/>
<line x1="1189.9" y1="2226.9" x2="1198.8" y2="2226.9" stroke="#060504" stroke-width="3.8"/>
<line x1="1189.9" y1="2242.4" x2="1198.8" y2="2242.4" stroke="#060504" stroke-width="3.8"/>
<line x1="1189.9" y1="2257.6" x2="1198.8" y2="2257.6" stroke="#060504" stroke-width="3.8"/>
<line x1="1189.9" y1="2273" x2="1198.8" y2="2273" stroke="#060504" stroke-width="3.8"/>
<line x1="1189.9" y1="2288.2" x2="1198.8" y2="2288.2" stroke="#060504" stroke-width="3.8"/>
<line x1="1189.9" y1="2303.4" x2="1198.8" y2="2303.4" stroke="#060504" stroke-width="3.8"/>
<line x1="1189.9" y1="2318.6" x2="1198.8" y2="2318.6" stroke="#060504" stroke-width="3.8"/>
<line x1="1189.9" y1="2334" x2="1198.8" y2="2334" stroke="#060504" stroke-width="3.8"/>
<line x1="1189.9" y1="2349.5" x2="1198.8" y2="2349.5" stroke="#060504" stroke-width="3.8"/>
<line x1="1189.9" y1="2364.6" x2="1198.8" y2="2364.6" stroke="#060504" stroke-width="3.8"/>
<line x1="1189.9" y1="2380.1" x2="1198.8" y2="2380.1" stroke="#060504" stroke-width="3.8"/>
<line x1="1189.9" y1="2395.5" x2="1198.8" y2="2395.5" stroke="#060504" stroke-width="3.8"/>
<line x1="1197" y1="2403.7" x2="1521.8" y2="2403.7" stroke="#060504" stroke-width="4.6"/>
<line x1="1263.1" y1="2403.7" x2="1263.1" y2="2411" stroke="#060504" stroke-width="3.6"/>
<line x1="1327.2" y1="2403.7" x2="1327.2" y2="2411" stroke="#060504" stroke-width="3.6"/>
<line x1="1392" y1="2403.7" x2="1392" y2="2411" stroke="#060504" stroke-width="3.6"/>
<line x1="1456.1" y1="2403.7" x2="1456.1" y2="2411" stroke="#060504" stroke-width="3.6"/>
<line x1="1520.2" y1="2403.7" x2="1520.2" y2="2411" stroke="#060504" stroke-width="3.6"/>
<line x1="1327.2" y1="2189" x2="1327.2" y2="2405" stroke="#060504" stroke-width="4.3"/>
<rect x="1327.2" y="2190.1" width="136.2" height="13.4" fill="#060504" rx="0.8"/>
<rect x="1327.2" y="2205.2" width="86" height="13.4" fill="#060504" rx="0.8"/>
<rect x="1327.2" y="2220.4" width="27.8" height="13.4" fill="#060504" rx="0.8"/>
<rect x="1327.2" y="2235.9" width="19.6" height="13.4" fill="#060504" rx="0.8"/>
<rect x="1327.2" y="2251.1" width="18.5" height="13.4" fill="#060504" rx="0.8"/>
<rect x="1327.2" y="2266.5" width="17.2" height="13.4" fill="#060504" rx="0.8"/>
<rect x="1327.2" y="2281.7" width="12.6" height="13.4" fill="#060504" rx="0.8"/>
<rect x="1327.2" y="2296.9" width="9.3" height="13.4" fill="#060504" rx="0.8"/>
<rect x="1327.2" y="2312.1" width="9.3" height="13.4" fill="#060504" rx="0.8"/>
<rect x="1327.2" y="2327.5" width="6.9" height="13.4" fill="#060504" rx="0.8"/>
<rect x="1258.1" y="2389.6" width="69.1" height="13.5" fill="#060504" rx="0.8"/>
</g>
<defs><clipPath id="k0"><path clip-rule="evenodd" d="M-9 -42H48.9V17.5H-9ZM22.41 -4.24H29.24V1.75H22.41ZM32.33 -4.24H38.9V1.75H32.33Z"/></clipPath><clipPath id="k1"><path clip-rule="evenodd" d="M-9 -42H40.12V17.5H-9ZM13.62 -4.24H20.46V1.75H13.62ZM23.55 -4.24H30.11V1.75H23.55Z"/></clipPath><clipPath id="k2"><path clip-rule="evenodd" d="M-9 -45H29.86V18.75H-9ZM2.11 -4.51H9.43V1.88H2.11ZM12.74 -4.51H19.77V1.88H12.74Z"/></clipPath><clipPath id="k3"><path clip-rule="evenodd" d="M-9 -45H42.34V18.75H-9ZM14.59 -4.51H21.92V1.88H14.59ZM25.23 -4.51H32.26V1.88H25.23Z"/></clipPath><clipPath id="k4"><path clip-rule="evenodd" d="M-9 -45H51.76V18.75H-9ZM24.01 -4.51H31.33V1.88H24.01ZM34.64 -4.51H41.67V1.88H34.64Z"/></clipPath><clipPath id="k5"><path clip-rule="evenodd" d="M-9 -36.72H119.6V15.3H-9ZM78.28 -3.76H84.25V1.53H78.28ZM86.96 -3.76H92.7V1.53H86.96Z"/></clipPath><clipPath id="k6"><path clip-rule="evenodd" d="M-9 -36H59.05V15H-9ZM1.69 -3.69H7.54V1.5H1.69ZM10.2 -3.69H15.82V1.5H10.2Z"/></clipPath><clipPath id="k7"><path clip-rule="evenodd" d="M-9 -38.4H26.8V16H-9ZM1.8 -3.91H8.05V1.6H1.8ZM10.88 -3.91H16.87V1.6H10.88Z"/></clipPath><clipPath id="k8"><path clip-rule="evenodd" d="M-9 -38.4H37.45V16H-9ZM12.45 -3.91H18.7V1.6H12.45ZM21.53 -3.91H27.53V1.6H21.53Z"/></clipPath><clipPath id="k9"><path clip-rule="evenodd" d="M-9 -42H47.93V17.5H-9ZM1.97 -4.24H8.8V1.75H1.97ZM11.89 -4.24H18.46V1.75H11.89Z"/></clipPath><clipPath id="k10"><path clip-rule="evenodd" d="M-9 -42H159.83V17.5H-9ZM133.34 -4.24H140.17V1.75H133.34ZM143.26 -4.24H149.83V1.75H143.26Z"/></clipPath><clipPath id="k11"><path clip-rule="evenodd" d="M-9 -46.2H174.9V19.25H-9ZM146.65 -4.62H154.17V1.93H146.65ZM157.57 -4.62H164.79V1.93H157.57Z"/></clipPath><clipPath id="k12"><path clip-rule="evenodd" d="M-9 -15.6H23.46V6.5H-9ZM0.73 -1.83H3.27V0.65H0.73ZM4.42 -1.83H6.86V0.65H4.42Z"/></clipPath><clipPath id="k13"><path clip-rule="evenodd" d="M-9 -15.6H23.46V6.5H-9ZM0.73 -1.83H3.27V0.65H0.73ZM4.42 -1.83H6.86V0.65H4.42ZM7.96 -1.83H10.5V0.65H7.96ZM11.65 -1.83H14.09V0.65H11.65Z"/></clipPath><clipPath id="k14"><path clip-rule="evenodd" d="M-9 -15.6H16.23V6.5H-9ZM0.73 -1.83H3.27V0.65H0.73ZM4.42 -1.83H6.86V0.65H4.42Z"/></clipPath><clipPath id="k15"><path clip-rule="evenodd" d="M-9 -18.96H151.24V7.9H-9ZM10.33 -2.57H13.34V0.79H10.33ZM15.51 -2.57H18.31V0.79H15.51Z"/></clipPath><clipPath id="k16"><path clip-rule="evenodd" d="M-9 -34.2H34.34V14.25H-9ZM11.09 -3.53H16.66V1.43H11.09ZM19.18 -3.53H24.52V1.43H19.18Z"/></clipPath><clipPath id="k17"><path clip-rule="evenodd" d="M-9 -34.2H24.85V14.25H-9ZM1.6 -3.53H7.17V1.43H1.6ZM9.69 -3.53H15.03V1.43H9.69Z"/></clipPath></defs>
<g id="labels">
<text transform="translate(5.15,29.2) scale(1.0520,1)" font-size="37.5" font-weight="bold">A</text>
<text transform="translate(74.3,294.5) rotate(-90)" font-size="37.5">gene expression</text>
<text transform="translate(119.5,304.16) rotate(-90) scale(0.9827,1)" font-size="38">module signatures</text>
<text transform="translate(690.32,52.2) scale(1.1311,1)" font-size="35" clip-path="url(#k0)">+1</text>
<text transform="translate(729.6,70.51) rotate(90) scale(0.9914,1)" font-size="38">correlation</text>
<text transform="translate(695.51,286) scale(1.1273,1)" font-size="35" clip-path="url(#k1)">-1</text>
<text transform="translate(233.2,533.39) rotate(-90) scale(0.9721,1)" font-size="38">treatment</text>
<text transform="translate(277.5,502.99) rotate(-90) scale(0.9915,1)" font-size="38">group</text>
<text transform="translate(349.6,565.89) rotate(-90) scale(0.9750,1)" font-size="38">time to PEP</text>
<text transform="translate(404.3,565.89) rotate(-90) scale(0.9830,1)" font-size="38">time to</text>
<text transform="translate(448.7,565.78) rotate(-90) scale(0.9844,1)" font-size="38">clinical flare</text>
<text transform="translate(516,584.28) rotate(-90) scale(0.9874,1)" font-size="38">event leading</text>
<text transform="translate(560.4,531.49) rotate(-90) scale(0.9737,1)" font-size="38">to PEP</text>
<text transform="translate(622.1,539.58) rotate(-90) scale(0.9932,1)" font-size="38">Phase of</text>
<text transform="translate(666.5,519.59) rotate(-90) scale(0.9929,1)" font-size="38">event</text>
<text transform="translate(929.42,32) scale(1.0330,1)" font-size="37.5" font-weight="bold">B</text>
<text transform="translate(975.3,278.71) rotate(-90) scale(0.9389,1)" font-size="33.5">- LOG<tspan dy="11.05" font-size="19.43">10</tspan><tspan dy="-11.05">FDR</tspan></text>
<text transform="translate(1248.35,33.3) scale(1.0366,1)" font-size="37.5">5</text>
<text transform="translate(1247.72,112.1) scale(1.0421,1)" font-size="37.5">4</text>
<text transform="translate(1248.35,179.4) scale(1.0366,1)" font-size="37.5">3</text>
<text transform="translate(1247.74,258.8) scale(1.0824,1)" font-size="37.5">2</text>
<text transform="translate(1248.94,336) scale(1.1027,1)" font-size="37.5" clip-path="url(#k2)">1</text>
<text transform="translate(983.42,455) scale(1.1319,1)" font-size="37.5" clip-path="url(#k3)">-1</text>
<text transform="translate(1284.12,455) scale(0.9889,1)" font-size="37.5">0</text>
<text transform="translate(1555.6,455.3) scale(1.0848,1)" font-size="37.5" clip-path="url(#k4)">+1</text>
<text transform="translate(1071.72,505.5) scale(0.9843,1)" font-size="38">correlation with time to PEP</text>
<text transform="translate(1023.88,52.5) scale(1.0235,1)" font-size="24.5" font-weight="bold" fill="#3a7fc0">steelblue</text>
<text transform="translate(1468.98,124.6) scale(1.0171,1)" font-size="24.5" font-weight="bold" fill="#858585">darkgrey</text>
<text transform="translate(1069.17,244.7) scale(1.0180,1)" font-size="24.5" font-weight="bold">black</text>
<text transform="translate(1426.4,259.6) scale(1.0268,1)" font-size="24.5" font-weight="bold" fill="#2e2c96">royalblue</text>
<text transform="translate(1488,336.2) scale(1.0263,1)" font-size="24.5" font-weight="bold" fill="#dc281c">FDR 0.05</text>
<text transform="translate(108.42,640.7) scale(0.9782,1)" font-size="25.5" font-weight="bold">CD56+ NK cells</text>
<text transform="translate(7.72,674) scale(0.9837,1)" font-size="37.5" font-weight="bold">C</text>
<text transform="translate(145.54,901) scale(1.0032,1)" font-size="25" font-weight="bold">black</text>
<text transform="translate(337.9,901) scale(1.0043,1)" font-size="25" font-weight="bold">darkgrey</text>
<text transform="translate(552.99,901) scale(1.0066,1)" font-size="25" font-weight="bold">steelblue</text>
<text transform="translate(766.34,901) scale(1.0083,1)" font-size="25" font-weight="bold">royalblue</text>
<text transform="translate(1021.23,684.3) scale(1.0163,1)" font-size="28.61">cell specific</text>
<text transform="translate(1021.98,721.2) scale(1.0383,1)" font-size="28.61">transcripts</text>
<text transform="translate(1057.27,876.5) scale(0.9857,1)" font-size="28.61">-log<tspan dy="9.44" font-size="16.59">10</tspan><tspan dy="-9.44">FDR</tspan></text>
<text transform="translate(169.05,982.1)" font-size="25" font-weight="bold">Human Gene Atlas</text>
<text transform="translate(420.66,981.8) scale(1.0203,1)" font-size="28.61">max</text>
<text transform="translate(594.41,981.7) scale(1.1432,1)" font-size="28.61">min</text>
<text transform="translate(664.89,982) scale(1.0339,1)" font-size="25" font-weight="bold">IRIS</text>
<text transform="translate(880.65,981.1) scale(1.0261,1)" font-size="28.61">max</text>
<text transform="translate(1071.16,979.2) scale(1.1219,1)" font-size="28.61">min</text>
<text transform="translate(55.72,1116.1) scale(0.9124,1)" font-size="30.6">NK cells</text>
<text transform="translate(1,1168.5)" font-size="30.6">whole blood</text>
<text transform="translate(217,1129.9) scale(0.9329,1)" font-size="30.6">CD4<tspan dy="-11.02" font-size="17.75">+</tspan></text>
<text transform="translate(217.74,1166.8) scale(0.8808,1)" font-size="30.6">Tcells</text>
<text transform="translate(296.39,1085.8) scale(0.9415,1)" font-size="30.6">CD8<tspan dy="-11.02" font-size="17.75">+</tspan></text>
<text transform="translate(297.14,1123) scale(0.8846,1)" font-size="30.6">Tcells</text>
<text transform="translate(571.13,1128.9) scale(0.8967,1)" font-size="30.6" clip-path="url(#k5)">IL2,IL15</text>
<text transform="translate(572.37,1166.8) scale(0.9836,1)" font-size="30.6">activated</text>
<text transform="translate(571.34,1203.8) scale(0.9060,1)" font-size="30.6">NK cells</text>
<text transform="translate(708.9,1129.9)" font-size="30.6">resting</text>
<text transform="translate(708.64,1166.8) scale(0.9060,1)" font-size="30.6">NK cells</text>
<text transform="translate(861.01,1090.9) scale(0.9271,1)" font-size="30.6">CD8<tspan dy="-11.02" font-size="17.75">+</tspan></text>
<text transform="translate(861.75,1127.1) scale(0.8667,1)" font-size="30.6">Tcells</text>
<text transform="translate(829.22,1176.1) scale(0.9227,1)" font-size="30.6">CD4<tspan dy="-11.02" font-size="17.75">+</tspan></text>
<text transform="translate(829.95,1212.7) scale(0.8718,1)" font-size="30.6">Tcells</text>
<text transform="translate(1217.88,668) scale(1.0087,1)" font-size="37.5" font-weight="bold">D</text>
<text transform="translate(1329.4,920.28) rotate(-90) scale(1.0134,1)" font-size="35.5">black module</text>
<text transform="translate(1412.57,928) scale(1.0538,1)" font-size="30.5">NK8<tspan dy="-10.98" font-size="17.69">lo</tspan></text>
<text transform="translate(1599.78,928) scale(1.0489,1)" font-size="30.5">NK8<tspan dy="-10.98" font-size="17.69">hi</tspan></text>
<text transform="translate(1292.61,961.4) scale(1.0589,1)" font-size="30">200</text>
<text transform="translate(1292.73,1087.4) scale(1.0565,1)" font-size="30" clip-path="url(#k6)">100</text>
<text transform="translate(1328.95,1208.3) scale(1.0035,1)" font-size="30">0</text>
<text transform="translate(1281.4,1208.79) rotate(-90) scale(0.9748,1)" font-size="32">time to PEP / days</text>
<text transform="translate(1640.6,1163)" font-size="31">P = 0.04</text>
<text transform="translate(1417.97,1249.7) scale(1.0509,1)" font-size="30.5" fill="#3878bc">NK8<tspan dy="-10.98" font-size="17.69">lo</tspan></text>
<text transform="translate(1610.77,1249.7) scale(1.0532,1)" font-size="30.5" fill="#dc281c">NK8<tspan dy="-10.98" font-size="17.69">hi</tspan></text>
<text transform="translate(16.04,1365.6) scale(1.0238,1)" font-size="37.5" font-weight="bold">E</text>
<text transform="translate(71.2,1655.44) rotate(-90) scale(0.9594,1)" font-size="32.5">- LOG<tspan dy="10.72" font-size="18.85">10</tspan><tspan dy="-10.72">FDRq</tspan></text>
<text transform="translate(345.57,1407) scale(0.9688,1)" font-size="32">4</text>
<text transform="translate(345.79,1469.3) scale(0.9705,1)" font-size="32">3</text>
<text transform="translate(345.27,1558.8) scale(1.0169,1)" font-size="32">2</text>
<text transform="translate(346.1,1658.5) scale(1.1000,1)" font-size="32" clip-path="url(#k7)">1</text>
<text transform="translate(85.99,1812) scale(1.0039,1)" font-size="32">-3</text>
<text transform="translate(196.51,1812) scale(0.9941,1)" font-size="32">-2</text>
<text transform="translate(276.55,1812) scale(1.1000,1)" font-size="32" clip-path="url(#k8)">-1</text>
<text transform="translate(384.26,1812) scale(1.0689,1)" font-size="32">0</text>
<text transform="translate(491.3,1812) scale(1.1000,1)" font-size="32" clip-path="url(#k7)">1</text>
<text transform="translate(579.79,1812) scale(1.0034,1)" font-size="32">2</text>
<text transform="translate(680.29,1812) scale(0.9705,1)" font-size="32">3</text>
<text transform="translate(501.86,1310.2) scale(0.9360,1)" font-size="30.07">NKup v T cell</text>
<text transform="translate(467.41,1351.1) scale(0.9551,1)" font-size="30.07">NKdown v T cell</text>
<text transform="translate(492.12,1391.2) scale(0.9766,1)" font-size="30.07">stimulated NK</text>
<text transform="translate(17.19,1857.7) scale(0.9842,1)" font-size="35.5" fill="#dc281c">up in NK8<tspan dy="-12.78" font-size="20.59">hi</tspan></text>
<text transform="translate(211.98,1857.7) scale(1.0290,1)" font-size="35">normalised enrichment</text>
<text transform="translate(340.14,1902.2) scale(0.9614,1)" font-size="35">score</text>
<text transform="translate(619.29,1857.7) scale(0.9825,1)" font-size="35.5" fill="#3878bc">up in NK8<tspan dy="-12.78" font-size="20.59">lo</tspan></text>
<text transform="translate(914.34,1382.9) scale(0.9842,1)" font-size="37.5" font-weight="bold">F</text>
<text transform="translate(1176.9,1652.74) rotate(-90) scale(0.9698,1)" font-size="38.5">CD56<tspan dy="-13.86" font-size="22.33">+</tspan><tspan dy="13.86">8</tspan><tspan dy="-13.86" font-size="22.33">+</tspan><tspan dy="13.86"> / %live</tspan></text>
<text transform="translate(1367.01,1404.7) scale(0.9650,1)" font-size="35">25</text>
<text transform="translate(1366.48,1460.1) scale(0.9846,1)" font-size="35">20</text>
<text transform="translate(1367.73,1516.5) scale(0.9460,1)" font-size="35" clip-path="url(#k9)">15</text>
<text transform="translate(1175.69,1705) scale(1.0063,1)" font-size="33.5">-0.4</text>
<text transform="translate(1414.92,1705) scale(1.1063,1)" font-size="33.5">0</text>
<text transform="translate(1615.28,1705) scale(0.9740,1)" font-size="33.5">0.4</text>
<text transform="translate(1468.96,1369.9) scale(0.9968,1)" font-size="34.3">r<tspan dy="-12.35" font-size="19.89">2</tspan><tspan dy="12.35"> = 0.36</tspan></text>
<text transform="translate(1468.5,1415.1) scale(0.9808,1)" font-size="35" clip-path="url(#k10)">P&lt;0.0001</text>
<text transform="translate(1130.46,1757) scale(1.0392,1)" font-size="36">black module expression / eigenvalue</text>
<text transform="translate(17.33,1998.8) scale(1.0455,1)" font-size="37.5" font-weight="bold">G</text>
<text transform="translate(180,1999.2) scale(0.9796,1)" font-size="35.5" fill="#3878bc">up in NK8<tspan dy="-12.78" font-size="20.59">lo</tspan></text>
<text transform="translate(503.98,1999.2) scale(0.9854,1)" font-size="35.5" fill="#dc281c">up in NK8<tspan dy="-12.78" font-size="20.59">hi</tspan></text>
<text transform="translate(167.53,2045) scale(0.9769,1)" font-size="38">0.6</text>
<text transform="translate(167.14,2101) scale(0.9751,1)" font-size="38">0.4</text>
<text transform="translate(164.52,2156.1) scale(0.9899,1)" font-size="38">0.2</text>
<text transform="translate(123.7,2399.12) rotate(-90) scale(0.9686,1)" font-size="38.5">normalised enrichment</text>
<text transform="translate(245.95,2235.3) scale(1.0900,1)" font-size="32.01">ranked expression</text>
<text transform="translate(537.66,2235.6) scale(1.0344,1)" font-size="33" fill="#3878bc">NK8<tspan dy="-11.88" font-size="19.14">lo</tspan></text>
<text transform="translate(626.93,2235.3) scale(1.0839,1)" font-size="32.01">v</text>
<text transform="translate(651.92,2235.6) scale(1.0467,1)" font-size="33" fill="#dc281c">NK8<tspan dy="-11.88" font-size="19.14">hi</tspan></text>
<text transform="translate(478.61,2091) scale(0.9813,1)" font-size="38.5">NK8<tspan dy="-13.86" font-size="22.33">neg</tspan><tspan dy="13.86">up</tspan></text>
<text transform="translate(478.64,2135.8) scale(0.9729,1)" font-size="38.5">P = 0.002</text>
<text transform="translate(146.25,2312.6) scale(0.9976,1)" font-size="38">-0.2</text>
<text transform="translate(146.28,2356.6) scale(0.9817,1)" font-size="38">-0.4</text>
<text transform="translate(146.26,2398.8) scale(0.9935,1)" font-size="38">-0.6</text>
<text transform="translate(255.12,2374) scale(0.9775,1)" font-size="38.5">NK8<tspan dy="-13.86" font-size="22.33">pos</tspan><tspan dy="13.86">up</tspan></text>
<text transform="translate(255.07,2419) scale(0.9932,1)" font-size="38.5" clip-path="url(#k11)">P &lt; 0.001</text>
<text transform="translate(829.58,1999) scale(1.0091,1)" font-size="37.5" font-weight="bold">H</text>
<text transform="translate(914.4,2137.18) rotate(-90) scale(1.0572,1)" font-size="34.5">partial likelihood</text>
<text transform="translate(959.7,2075.94) rotate(-90) scale(1.0244,1)" font-size="34.5">deviance</text>
<text transform="translate(1080.35,2058) scale(1.1029,1)" font-size="32.5">-7</text>
<text transform="translate(1196.46,2058) scale(1.0923,1)" font-size="32.5">-6</text>
<text transform="translate(1313.66,2058) scale(1.0923,1)" font-size="32.5">-5</text>
<text transform="translate(1433.19,2058) scale(1.0717,1)" font-size="32.5">-4</text>
<text transform="translate(1549.56,2058) scale(1.0923,1)" font-size="32.5">-3</text>
<text transform="translate(1675.55,2058) scale(1.1029,1)" font-size="32.5">-2</text>
<text transform="translate(1248.42,2104.7) scale(1.0595,1)" font-size="33.5">penalty, log lambda</text>
<text transform="translate(1038.99,1863.2) scale(1.0118,1)" font-size="13" fill="#15151f" stroke="#15151f" stroke-width="0.35" clip-path="url(#k12)">13</text>
<text transform="translate(1072.39,1863.2) scale(1.0118,1)" font-size="13" fill="#15151f" stroke="#15151f" stroke-width="0.35" clip-path="url(#k12)">13</text>
<text transform="translate(1105.79,1863.2) scale(1.0118,1)" font-size="13" fill="#15151f" stroke="#15151f" stroke-width="0.35" clip-path="url(#k12)">13</text>
<text transform="translate(1139.19,1863.2) scale(1.0118,1)" font-size="13" fill="#15151f" stroke="#15151f" stroke-width="0.35" clip-path="url(#k12)">13</text>
<text transform="translate(1172.59,1863.2) scale(1.0118,1)" font-size="13" fill="#15151f" stroke="#15151f" stroke-width="0.35" clip-path="url(#k12)">13</text>
<text transform="translate(1205.99,1863.2) scale(1.0118,1)" font-size="13" fill="#15151f" stroke="#15151f" stroke-width="0.35" clip-path="url(#k12)">13</text>
<text transform="translate(1239.48,1863.2) scale(1.0160,1)" font-size="13" fill="#15151f" stroke="#15151f" stroke-width="0.35" clip-path="url(#k12)">12</text>
<text transform="translate(1272.88,1863.2) scale(1.0160,1)" font-size="13" fill="#15151f" stroke="#15151f" stroke-width="0.35" clip-path="url(#k12)">12</text>
<text transform="translate(1306.28,1863.2) scale(1.0160,1)" font-size="13" fill="#15151f" stroke="#15151f" stroke-width="0.35" clip-path="url(#k12)">12</text>
<text transform="translate(1339.68,1863.2) scale(1.0160,1)" font-size="13" fill="#15151f" stroke="#15151f" stroke-width="0.35" clip-path="url(#k12)">12</text>
<text transform="translate(1374.01,1863.2) scale(1.0286,1)" font-size="13" fill="#15151f" stroke="#15151f" stroke-width="0.35" clip-path="url(#k13)">11</text>
<text transform="translate(1407.41,1863.2) scale(1.0286,1)" font-size="13" fill="#15151f" stroke="#15151f" stroke-width="0.35" clip-path="url(#k13)">11</text>
<text transform="translate(1440.81,1863.2) scale(1.0286,1)" font-size="13" fill="#15151f" stroke="#15151f" stroke-width="0.35" clip-path="url(#k13)">11</text>
<text transform="translate(1474.21,1863.2) scale(1.0286,1)" font-size="13" fill="#15151f" stroke="#15151f" stroke-width="0.35" clip-path="url(#k13)">11</text>
<text transform="translate(1506.59,1863.2) scale(1.0118,1)" font-size="13" fill="#15151f" stroke="#15151f" stroke-width="0.35" clip-path="url(#k12)">10</text>
<text transform="translate(1544.2,1863.2)" font-size="13" fill="#15151f" stroke="#15151f" stroke-width="0.35">9</text>
<text transform="translate(1567.42,1863.2) scale(0.9600,1)" font-size="13" fill="#15151f" stroke="#15151f" stroke-width="0.35">8</text>
<text transform="translate(1589.02,1863.2) scale(1.0435,1)" font-size="13" fill="#15151f" stroke="#15151f" stroke-width="0.35">7</text>
<text transform="translate(1612.12,1863.2) scale(1.0435,1)" font-size="13" fill="#15151f" stroke="#15151f" stroke-width="0.35">2</text>
<text transform="translate(1634.72,1863.2) scale(1.0435,1)" font-size="13" fill="#15151f" stroke="#15151f" stroke-width="0.35">2</text>
<text transform="translate(1657.22,1863.2) scale(1.0435,1)" font-size="13" fill="#15151f" stroke="#15151f" stroke-width="0.35">2</text>
<text transform="translate(1679.22,1863.2) scale(1.0435,1)" font-size="13" fill="#15151f" stroke="#15151f" stroke-width="0.35">2</text>
<text transform="translate(1701.12,1863.2) scale(1.0435,1)" font-size="13" fill="#15151f" stroke="#15151f" stroke-width="0.35">2</text>
<text transform="translate(1724.22,1863.2) scale(1.1077,1)" font-size="13" fill="#15151f" stroke="#15151f" stroke-width="0.35" clip-path="url(#k14)">1</text>
<text transform="translate(1083.32,2201.6) scale(1.0320,1)" font-size="15.8" font-weight="bold" fill="#111">NK signature</text>
<text transform="translate(1046.69,2216.7) scale(1.0320,1)" font-size="15.8" font-weight="bold" fill="#111">SymptomSeverity</text>
<text transform="translate(996.89,2231.9) scale(1.0320,1)" font-size="15.8" font-weight="bold" fill="#111">CIS system involvement</text>
<text transform="translate(1067.07,2247.4) scale(1.0320,1)" font-size="15.8" font-weight="bold" fill="#111">PASAT3Zscore</text>
<text transform="translate(1037.91,2262.6) scale(1.0320,1)" font-size="15.8" font-weight="bold" fill="#111">T2lesionload, mm3</text>
<text transform="translate(1062.42,2278) scale(1.0320,1)" font-size="15.8" font-weight="bold" fill="#111">PASAT2.Zscore</text>
<text transform="translate(1057.01,2293.2) scale(1.0320,1)" font-size="15.8" font-weight="bold" fill="#111">9HolePegZscore</text>
<text transform="translate(1076.1,2308.4) scale(1.0320,1)" font-size="15.8" font-weight="bold" fill="#111">MSFC.Z.score</text>
<text transform="translate(1155.3,2323.6) scale(1.0320,1)" font-size="15.8" font-weight="bold" fill="#111">Sex</text>
<text transform="translate(1057.26,2339) scale(1.0320,1)" font-size="15.8" font-weight="bold" fill="#111">TreatmentGroup</text>
<text transform="translate(984.51,2354.5) scale(1.0320,1)" font-size="15.8" font-weight="bold" fill="#111">NormalisedLesionVolume</text>
<text transform="translate(1059.84,2369.6) scale(1.0320,1)" font-size="15.8" font-weight="bold" fill="#111">WalkTestZscore</text>
<text transform="translate(1088.22,2385.1) scale(1.0320,1)" font-size="15.8" font-weight="bold" fill="#111">CIS duration</text>
<text transform="translate(1037.91,2400.5) scale(1.0320,1)" font-size="15.8" font-weight="bold" fill="#111" clip-path="url(#k15)">T1lesionload, mm3</text>
<text transform="translate(1188.6,2445.4) scale(1.0374,1)" font-size="28.5">-2</text>
<text transform="translate(1249.64,2445.4) scale(1.0056,1)" font-size="28.5" clip-path="url(#k16)">-1</text>
<text transform="translate(1318.17,2445.4) scale(1.0255,1)" font-size="28.5">0</text>
<text transform="translate(1386.46,2445.4) scale(1.1429,1)" font-size="28.5" clip-path="url(#k17)">1</text>
<text transform="translate(1448.17,2445.4) scale(1.0846,1)" font-size="28.5">2</text>
<text transform="translate(1510.97,2445.4) scale(0.9811,1)" font-size="28.5">3</text>
<text transform="translate(1216.96,2482.1) scale(1.1290,1)" font-size="33">model coefficient</text>
</g>
</svg>
</body></html>
